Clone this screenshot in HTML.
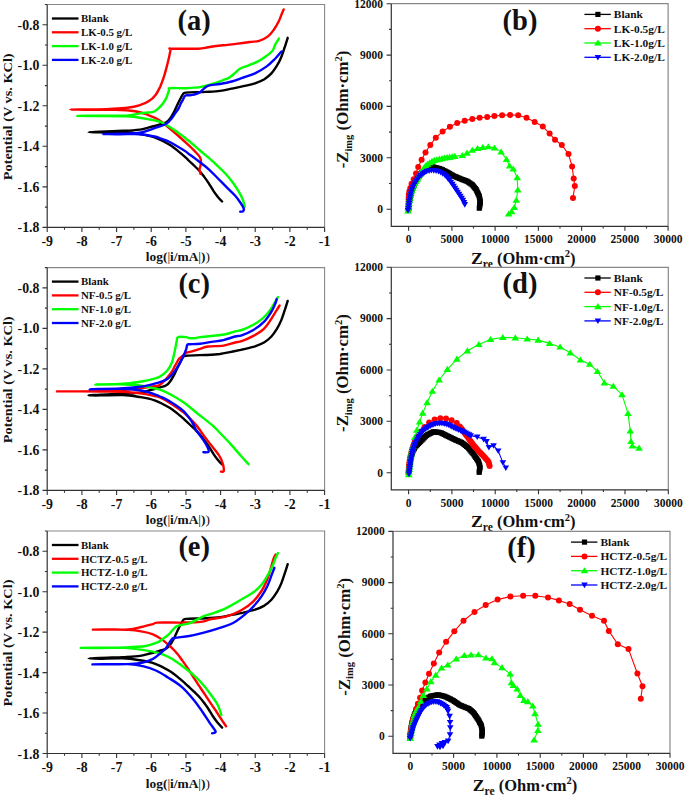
<!DOCTYPE html>
<html><head><meta charset="utf-8"><style>
html,body{margin:0;padding:0;background:#fff;overflow:hidden;}
svg{display:block;}
text{font-family:"Liberation Serif", serif;font-weight:bold;fill:#111;}
</style></head><body>
<svg width="685" height="795" viewBox="0 0 685 795">
<path d="M47.2,4.5H324.6V227.4" fill="none" stroke="#888" stroke-width="1.1"/>
<path d="M47.2,227.4v4.5 M64.5,227.4v2.3 M81.9,227.4v4.5 M99.2,227.4v2.3 M116.6,227.4v4.5 M133.9,227.4v2.3 M151.2,227.4v4.5 M168.6,227.4v2.3 M185.9,227.4v4.5 M203.2,227.4v2.3 M220.6,227.4v4.5 M237.9,227.4v2.3 M255.2,227.4v4.5 M272.6,227.4v2.3 M289.9,227.4v4.5 M307.3,227.4v2.3 M324.6,227.4v4.5 M47.2,24.8h-4.7 M47.2,4.5h-2.3 M47.2,65.3h-4.7 M47.2,45.0h-2.3 M47.2,105.8h-4.7 M47.2,85.6h-2.3 M47.2,146.3h-4.7 M47.2,126.1h-2.3 M47.2,186.9h-4.7 M47.2,166.6h-2.3 M47.2,227.4h-4.7 M47.2,207.1h-2.3" stroke="#333" stroke-width="1.1" fill="none"/>
<path d="M47.2,4.5V227.4H324.6" fill="none" stroke="#333" stroke-width="1.2"/>
<text transform="translate(39.4,29.8) scale(1,1.08)" font-size="13.8" text-anchor="end"><tspan font-weight="normal">-</tspan>0.8</text>
<text transform="translate(39.4,70.3) scale(1,1.08)" font-size="13.8" text-anchor="end"><tspan font-weight="normal">-</tspan>1.0</text>
<text transform="translate(39.4,110.8) scale(1,1.08)" font-size="13.8" text-anchor="end"><tspan font-weight="normal">-</tspan>1.2</text>
<text transform="translate(39.4,151.3) scale(1,1.08)" font-size="13.8" text-anchor="end"><tspan font-weight="normal">-</tspan>1.4</text>
<text transform="translate(39.4,191.9) scale(1,1.08)" font-size="13.8" text-anchor="end"><tspan font-weight="normal">-</tspan>1.6</text>
<text transform="translate(39.4,232.4) scale(1,1.08)" font-size="13.8" text-anchor="end"><tspan font-weight="normal">-</tspan>1.8</text>
<text transform="translate(47.2,245.8) scale(1,1.08)" font-size="13.8" text-anchor="middle"><tspan font-weight="normal">-</tspan>9</text>
<text transform="translate(81.9,245.8) scale(1,1.08)" font-size="13.8" text-anchor="middle"><tspan font-weight="normal">-</tspan>8</text>
<text transform="translate(116.6,245.8) scale(1,1.08)" font-size="13.8" text-anchor="middle"><tspan font-weight="normal">-</tspan>7</text>
<text transform="translate(151.2,245.8) scale(1,1.08)" font-size="13.8" text-anchor="middle"><tspan font-weight="normal">-</tspan>6</text>
<text transform="translate(185.9,245.8) scale(1,1.08)" font-size="13.8" text-anchor="middle"><tspan font-weight="normal">-</tspan>5</text>
<text transform="translate(220.6,245.8) scale(1,1.08)" font-size="13.8" text-anchor="middle"><tspan font-weight="normal">-</tspan>4</text>
<text transform="translate(255.2,245.8) scale(1,1.08)" font-size="13.8" text-anchor="middle"><tspan font-weight="normal">-</tspan>3</text>
<text transform="translate(289.9,245.8) scale(1,1.08)" font-size="13.8" text-anchor="middle"><tspan font-weight="normal">-</tspan>2</text>
<text transform="translate(324.6,245.8) scale(1,1.08)" font-size="13.8" text-anchor="middle"><tspan font-weight="normal">-</tspan>1</text>
<text transform="translate(12.3,116.8) rotate(-90) scale(1.11,1)" font-size="12.9" text-anchor="middle">Potential (V vs. KCl)</text>
<text x="145.8" y="261.4" font-size="13.4">log(<tspan font-weight="normal">|</tspan>i/mA<tspan font-weight="normal">|</tspan>)<tspan font-weight="normal">)</tspan></text>
<path d="M47.2,267.6H324.6V490.4" fill="none" stroke="#888" stroke-width="1.1"/>
<path d="M47.2,490.4v4.5 M64.5,490.4v2.3 M81.9,490.4v4.5 M99.2,490.4v2.3 M116.6,490.4v4.5 M133.9,490.4v2.3 M151.2,490.4v4.5 M168.6,490.4v2.3 M185.9,490.4v4.5 M203.2,490.4v2.3 M220.6,490.4v4.5 M237.9,490.4v2.3 M255.2,490.4v4.5 M272.6,490.4v2.3 M289.9,490.4v4.5 M307.3,490.4v2.3 M324.6,490.4v4.5 M47.2,287.9h-4.7 M47.2,267.6h-2.3 M47.2,328.4h-4.7 M47.2,308.1h-2.3 M47.2,368.9h-4.7 M47.2,348.6h-2.3 M47.2,409.4h-4.7 M47.2,389.1h-2.3 M47.2,449.9h-4.7 M47.2,429.6h-2.3 M47.2,490.4h-4.7 M47.2,470.1h-2.3" stroke="#333" stroke-width="1.1" fill="none"/>
<path d="M47.2,267.6V490.4H324.6" fill="none" stroke="#333" stroke-width="1.2"/>
<text transform="translate(39.4,292.9) scale(1,1.08)" font-size="13.8" text-anchor="end"><tspan font-weight="normal">-</tspan>0.8</text>
<text transform="translate(39.4,333.4) scale(1,1.08)" font-size="13.8" text-anchor="end"><tspan font-weight="normal">-</tspan>1.0</text>
<text transform="translate(39.4,373.9) scale(1,1.08)" font-size="13.8" text-anchor="end"><tspan font-weight="normal">-</tspan>1.2</text>
<text transform="translate(39.4,414.4) scale(1,1.08)" font-size="13.8" text-anchor="end"><tspan font-weight="normal">-</tspan>1.4</text>
<text transform="translate(39.4,454.9) scale(1,1.08)" font-size="13.8" text-anchor="end"><tspan font-weight="normal">-</tspan>1.6</text>
<text transform="translate(39.4,495.4) scale(1,1.08)" font-size="13.8" text-anchor="end"><tspan font-weight="normal">-</tspan>1.8</text>
<text transform="translate(47.2,508.8) scale(1,1.08)" font-size="13.8" text-anchor="middle"><tspan font-weight="normal">-</tspan>9</text>
<text transform="translate(81.9,508.8) scale(1,1.08)" font-size="13.8" text-anchor="middle"><tspan font-weight="normal">-</tspan>8</text>
<text transform="translate(116.6,508.8) scale(1,1.08)" font-size="13.8" text-anchor="middle"><tspan font-weight="normal">-</tspan>7</text>
<text transform="translate(151.2,508.8) scale(1,1.08)" font-size="13.8" text-anchor="middle"><tspan font-weight="normal">-</tspan>6</text>
<text transform="translate(185.9,508.8) scale(1,1.08)" font-size="13.8" text-anchor="middle"><tspan font-weight="normal">-</tspan>5</text>
<text transform="translate(220.6,508.8) scale(1,1.08)" font-size="13.8" text-anchor="middle"><tspan font-weight="normal">-</tspan>4</text>
<text transform="translate(255.2,508.8) scale(1,1.08)" font-size="13.8" text-anchor="middle"><tspan font-weight="normal">-</tspan>3</text>
<text transform="translate(289.9,508.8) scale(1,1.08)" font-size="13.8" text-anchor="middle"><tspan font-weight="normal">-</tspan>2</text>
<text transform="translate(324.6,508.8) scale(1,1.08)" font-size="13.8" text-anchor="middle"><tspan font-weight="normal">-</tspan>1</text>
<text transform="translate(12.3,379.8) rotate(-90) scale(1.11,1)" font-size="12.9" text-anchor="middle">Potential (V vs. KCl)</text>
<text x="145.8" y="524.4" font-size="13.4">log(<tspan font-weight="normal">|</tspan>i/mA<tspan font-weight="normal">|</tspan>)<tspan font-weight="normal">)</tspan></text>
<path d="M47.2,531.0H324.6V753.5" fill="none" stroke="#888" stroke-width="1.1"/>
<path d="M47.2,753.5v4.5 M64.5,753.5v2.3 M81.9,753.5v4.5 M99.2,753.5v2.3 M116.6,753.5v4.5 M133.9,753.5v2.3 M151.2,753.5v4.5 M168.6,753.5v2.3 M185.9,753.5v4.5 M203.2,753.5v2.3 M220.6,753.5v4.5 M237.9,753.5v2.3 M255.2,753.5v4.5 M272.6,753.5v2.3 M289.9,753.5v4.5 M307.3,753.5v2.3 M324.6,753.5v4.5 M47.2,551.2h-4.7 M47.2,531.0h-2.3 M47.2,591.7h-4.7 M47.2,571.5h-2.3 M47.2,632.1h-4.7 M47.2,611.9h-2.3 M47.2,672.6h-4.7 M47.2,652.4h-2.3 M47.2,713.0h-4.7 M47.2,692.8h-2.3 M47.2,753.5h-4.7 M47.2,733.3h-2.3" stroke="#333" stroke-width="1.1" fill="none"/>
<path d="M47.2,531.0V753.5H324.6" fill="none" stroke="#333" stroke-width="1.2"/>
<text transform="translate(39.4,556.2) scale(1,1.08)" font-size="13.8" text-anchor="end"><tspan font-weight="normal">-</tspan>0.8</text>
<text transform="translate(39.4,596.7) scale(1,1.08)" font-size="13.8" text-anchor="end"><tspan font-weight="normal">-</tspan>1.0</text>
<text transform="translate(39.4,637.1) scale(1,1.08)" font-size="13.8" text-anchor="end"><tspan font-weight="normal">-</tspan>1.2</text>
<text transform="translate(39.4,677.6) scale(1,1.08)" font-size="13.8" text-anchor="end"><tspan font-weight="normal">-</tspan>1.4</text>
<text transform="translate(39.4,718.0) scale(1,1.08)" font-size="13.8" text-anchor="end"><tspan font-weight="normal">-</tspan>1.6</text>
<text transform="translate(39.4,758.5) scale(1,1.08)" font-size="13.8" text-anchor="end"><tspan font-weight="normal">-</tspan>1.8</text>
<text transform="translate(47.2,771.9) scale(1,1.08)" font-size="13.8" text-anchor="middle"><tspan font-weight="normal">-</tspan>9</text>
<text transform="translate(81.9,771.9) scale(1,1.08)" font-size="13.8" text-anchor="middle"><tspan font-weight="normal">-</tspan>8</text>
<text transform="translate(116.6,771.9) scale(1,1.08)" font-size="13.8" text-anchor="middle"><tspan font-weight="normal">-</tspan>7</text>
<text transform="translate(151.2,771.9) scale(1,1.08)" font-size="13.8" text-anchor="middle"><tspan font-weight="normal">-</tspan>6</text>
<text transform="translate(185.9,771.9) scale(1,1.08)" font-size="13.8" text-anchor="middle"><tspan font-weight="normal">-</tspan>5</text>
<text transform="translate(220.6,771.9) scale(1,1.08)" font-size="13.8" text-anchor="middle"><tspan font-weight="normal">-</tspan>4</text>
<text transform="translate(255.2,771.9) scale(1,1.08)" font-size="13.8" text-anchor="middle"><tspan font-weight="normal">-</tspan>3</text>
<text transform="translate(289.9,771.9) scale(1,1.08)" font-size="13.8" text-anchor="middle"><tspan font-weight="normal">-</tspan>2</text>
<text transform="translate(324.6,771.9) scale(1,1.08)" font-size="13.8" text-anchor="middle"><tspan font-weight="normal">-</tspan>1</text>
<text transform="translate(12.3,643.0) rotate(-90) scale(1.11,1)" font-size="12.9" text-anchor="middle">Potential (V vs. KCl)</text>
<text x="145.8" y="787.5" font-size="13.4">log(<tspan font-weight="normal">|</tspan>i/mA<tspan font-weight="normal">|</tspan>)<tspan font-weight="normal">)</tspan></text>
<path d="M391.3,3.7H668.1V226.3" fill="none" stroke="#888" stroke-width="1.2"/>
<path d="M408.6,226.3v4.5 M430.2,226.3v2.3 M451.9,226.3v4.5 M473.5,226.3v2.3 M495.1,226.3v4.5 M516.7,226.3v2.3 M538.4,226.3v4.5 M560.0,226.3v2.3 M581.6,226.3v4.5 M603.2,226.3v2.3 M624.9,226.3v4.5 M646.5,226.3v2.3 M668.1,226.3v4.5 M391.3,209.2h-4.7 M391.3,183.5h-2.3 M391.3,157.8h-4.7 M391.3,132.1h-2.3 M391.3,106.4h-4.7 M391.3,80.8h-2.3 M391.3,55.1h-4.7 M391.3,29.4h-2.3 M391.3,3.7h-4.7" stroke="#333" stroke-width="1.1" fill="none"/>
<path d="M391.3,3.7V226.3H668.1" fill="none" stroke="#333" stroke-width="1.2"/>
<text x="383.0" y="213.0" font-size="11.5" text-anchor="end" >0</text>
<text x="383.0" y="161.6" font-size="11.5" text-anchor="end" >3000</text>
<text x="383.0" y="110.2" font-size="11.5" text-anchor="end" >6000</text>
<text x="383.0" y="58.9" font-size="11.5" text-anchor="end" >9000</text>
<text x="383.0" y="7.5" font-size="11.5" text-anchor="end" >12000</text>
<text x="408.6" y="243.3" font-size="11.5" text-anchor="middle" >0</text>
<text x="451.9" y="243.3" font-size="11.5" text-anchor="middle" >5000</text>
<text x="495.1" y="243.3" font-size="11.5" text-anchor="middle" >10000</text>
<text x="538.4" y="243.3" font-size="11.5" text-anchor="middle" >15000</text>
<text x="581.6" y="243.3" font-size="11.5" text-anchor="middle" >20000</text>
<text x="624.9" y="243.3" font-size="11.5" text-anchor="middle" >25000</text>
<text x="668.1" y="243.3" font-size="11.5" text-anchor="middle" >30000</text>
<text transform="translate(348.1,109.5) rotate(-90)" font-size="16.8" text-anchor="middle">-Z<tspan font-size="10.5" dy="3.5">img</tspan><tspan dy="-3.5"> (Ohm·cm</tspan><tspan font-size="10.5" dy="-6">2</tspan><tspan dy="6">)</tspan></text>
<text x="471.1" y="263.5" font-size="16.5"><tspan font-size="17.6">Z</tspan><tspan font-size="11.5" dy="4">re</tspan><tspan dy="-4"> (Ohm·cm</tspan><tspan font-size="10.5" dy="-6.5">2</tspan><tspan dy="6.5">)</tspan></text>
<path d="M391.3,267.3H668.3V489.8" fill="none" stroke="#888" stroke-width="1.2"/>
<path d="M408.6,489.8v4.5 M430.3,489.8v2.3 M451.9,489.8v4.5 M473.5,489.8v2.3 M495.2,489.8v4.5 M516.8,489.8v2.3 M538.5,489.8v4.5 M560.1,489.8v2.3 M581.7,489.8v4.5 M603.4,489.8v2.3 M625.0,489.8v4.5 M646.7,489.8v2.3 M668.3,489.8v4.5 M391.3,472.7h-4.7 M391.3,447.0h-2.3 M391.3,421.3h-4.7 M391.3,395.7h-2.3 M391.3,370.0h-4.7 M391.3,344.3h-2.3 M391.3,318.6h-4.7 M391.3,293.0h-2.3 M391.3,267.3h-4.7" stroke="#333" stroke-width="1.1" fill="none"/>
<path d="M391.3,267.3V489.8H668.3" fill="none" stroke="#333" stroke-width="1.2"/>
<text x="383.0" y="476.5" font-size="11.5" text-anchor="end" >0</text>
<text x="383.0" y="425.1" font-size="11.5" text-anchor="end" >3000</text>
<text x="383.0" y="373.8" font-size="11.5" text-anchor="end" >6000</text>
<text x="383.0" y="322.4" font-size="11.5" text-anchor="end" >9000</text>
<text x="383.0" y="271.1" font-size="11.5" text-anchor="end" >12000</text>
<text x="408.6" y="506.8" font-size="11.5" text-anchor="middle" >0</text>
<text x="451.9" y="506.8" font-size="11.5" text-anchor="middle" >5000</text>
<text x="495.2" y="506.8" font-size="11.5" text-anchor="middle" >10000</text>
<text x="538.5" y="506.8" font-size="11.5" text-anchor="middle" >15000</text>
<text x="581.7" y="506.8" font-size="11.5" text-anchor="middle" >20000</text>
<text x="625.0" y="506.8" font-size="11.5" text-anchor="middle" >25000</text>
<text x="668.3" y="506.8" font-size="11.5" text-anchor="middle" >30000</text>
<text transform="translate(348.1,373.1) rotate(-90)" font-size="16.8" text-anchor="middle">-Z<tspan font-size="10.5" dy="3.5">img</tspan><tspan dy="-3.5"> (Ohm·cm</tspan><tspan font-size="10.5" dy="-6">2</tspan><tspan dy="6">)</tspan></text>
<text x="471.1" y="527.0" font-size="16.5"><tspan font-size="17.6">Z</tspan><tspan font-size="11.5" dy="4">re</tspan><tspan dy="-4"> (Ohm·cm</tspan><tspan font-size="10.5" dy="-6.5">2</tspan><tspan dy="6.5">)</tspan></text>
<path d="M393.0,531.4H670.0V753.3" fill="none" stroke="#888" stroke-width="1.2"/>
<path d="M410.3,753.3v4.5 M432.0,753.3v2.3 M453.6,753.3v4.5 M475.2,753.3v2.3 M496.9,753.3v4.5 M518.5,753.3v2.3 M540.2,753.3v4.5 M561.8,753.3v2.3 M583.4,753.3v4.5 M605.1,753.3v2.3 M626.7,753.3v4.5 M648.4,753.3v2.3 M670.0,753.3v4.5 M393.0,736.2h-4.7 M393.0,710.6h-2.3 M393.0,685.0h-4.7 M393.0,659.4h-2.3 M393.0,633.8h-4.7 M393.0,608.2h-2.3 M393.0,582.6h-4.7 M393.0,557.0h-2.3 M393.0,531.4h-4.7" stroke="#333" stroke-width="1.1" fill="none"/>
<path d="M393.0,531.4V753.3H670.0" fill="none" stroke="#333" stroke-width="1.2"/>
<text x="384.7" y="740.0" font-size="11.5" text-anchor="end" >0</text>
<text x="384.7" y="688.8" font-size="11.5" text-anchor="end" >3000</text>
<text x="384.7" y="637.6" font-size="11.5" text-anchor="end" >6000</text>
<text x="384.7" y="586.4" font-size="11.5" text-anchor="end" >9000</text>
<text x="384.7" y="535.2" font-size="11.5" text-anchor="end" >12000</text>
<text x="410.3" y="770.3" font-size="11.5" text-anchor="middle" >0</text>
<text x="453.6" y="770.3" font-size="11.5" text-anchor="middle" >5000</text>
<text x="496.9" y="770.3" font-size="11.5" text-anchor="middle" >10000</text>
<text x="540.2" y="770.3" font-size="11.5" text-anchor="middle" >15000</text>
<text x="583.4" y="770.3" font-size="11.5" text-anchor="middle" >20000</text>
<text x="626.7" y="770.3" font-size="11.5" text-anchor="middle" >25000</text>
<text x="670.0" y="770.3" font-size="11.5" text-anchor="middle" >30000</text>
<text transform="translate(349.8,636.8) rotate(-90)" font-size="16.8" text-anchor="middle">-Z<tspan font-size="10.5" dy="3.5">img</tspan><tspan dy="-3.5"> (Ohm·cm</tspan><tspan font-size="10.5" dy="-6">2</tspan><tspan dy="6">)</tspan></text>
<text x="472.8" y="790.5" font-size="16.5"><tspan font-size="17.6">Z</tspan><tspan font-size="11.5" dy="4">re</tspan><tspan dy="-4"> (Ohm·cm</tspan><tspan font-size="10.5" dy="-6.5">2</tspan><tspan dy="6.5">)</tspan></text>
<text x="194.2" y="30.0" font-size="28.5" text-anchor="middle" >(a)</text>
<text x="194.2" y="293.0" font-size="28.5" text-anchor="middle" >(c)</text>
<text x="194.2" y="556.0" font-size="28.5" text-anchor="middle" >(e)</text>
<text x="520.0" y="30.0" font-size="28.5" text-anchor="middle" >(b)</text>
<text x="520.0" y="293.0" font-size="28.5" text-anchor="middle" >(d)</text>
<text x="521.5" y="557.0" font-size="28.5" text-anchor="middle" >(f)</text>
<line x1="51.9" y1="18.5" x2="78.5" y2="18.5" stroke="#000" stroke-width="2.3"/>
<text x="80.9" y="22.3" font-size="10.9" text-anchor="start" >Blank</text>
<line x1="51.9" y1="32.3" x2="78.5" y2="32.3" stroke="#f00" stroke-width="2.3"/>
<text x="80.9" y="36.1" font-size="10.9" text-anchor="start" >LK-0.5 g/L</text>
<line x1="51.9" y1="46.1" x2="78.5" y2="46.1" stroke="#0f0" stroke-width="2.3"/>
<text x="80.9" y="49.9" font-size="10.9" text-anchor="start" >LK-1.0 g/L</text>
<line x1="51.9" y1="59.9" x2="78.5" y2="59.9" stroke="#00f" stroke-width="2.3"/>
<text x="80.9" y="63.7" font-size="10.9" text-anchor="start" >LK-2.0 g/L</text>
<line x1="51.9" y1="281.6" x2="78.5" y2="281.6" stroke="#000" stroke-width="2.3"/>
<text x="80.9" y="285.4" font-size="10.9" text-anchor="start" >Blank</text>
<line x1="51.9" y1="295.4" x2="78.5" y2="295.4" stroke="#f00" stroke-width="2.3"/>
<text x="80.9" y="299.2" font-size="10.9" text-anchor="start" >NF-0.5 g/L</text>
<line x1="51.9" y1="309.2" x2="78.5" y2="309.2" stroke="#0f0" stroke-width="2.3"/>
<text x="80.9" y="313.0" font-size="10.9" text-anchor="start" >NF-1.0 g/L</text>
<line x1="51.9" y1="323.0" x2="78.5" y2="323.0" stroke="#00f" stroke-width="2.3"/>
<text x="80.9" y="326.8" font-size="10.9" text-anchor="start" >NF-2.0 g/L</text>
<line x1="51.9" y1="545.0" x2="78.5" y2="545.0" stroke="#000" stroke-width="2.3"/>
<text x="80.9" y="548.8" font-size="10.9" text-anchor="start" >Blank</text>
<line x1="51.9" y1="558.8" x2="78.5" y2="558.8" stroke="#f00" stroke-width="2.3"/>
<text x="80.9" y="562.6" font-size="10.9" text-anchor="start" >HCTZ-0.5 g/L</text>
<line x1="51.9" y1="572.6" x2="78.5" y2="572.6" stroke="#0f0" stroke-width="2.3"/>
<text x="80.9" y="576.4" font-size="10.9" text-anchor="start" >HCTZ-1.0 g/L</text>
<line x1="51.9" y1="586.4" x2="78.5" y2="586.4" stroke="#00f" stroke-width="2.3"/>
<text x="80.9" y="590.2" font-size="10.9" text-anchor="start" >HCTZ-2.0 g/L</text>
<line x1="584.4" y1="14.4" x2="610.8" y2="14.4" stroke="#000" stroke-width="1.3"/>
<rect x="595.3" y="11.8" width="5.2" height="5.2" fill="#000"/>
<text x="613.8" y="18.3" font-size="11.4" text-anchor="start" >Blank</text>
<line x1="584.4" y1="28.7" x2="610.8" y2="28.7" stroke="#f00" stroke-width="1.3"/>
<circle cx="597.9" cy="28.7" r="3.00" fill="#f00"/>
<text x="613.8" y="32.6" font-size="11.4" text-anchor="start" >LK-0.5g/L</text>
<line x1="584.4" y1="43.0" x2="610.8" y2="43.0" stroke="#0f0" stroke-width="1.3"/>
<path d="M597.9,39.5L601.7,45.6L594.1,45.6Z" fill="#0f0"/>
<text x="613.8" y="46.9" font-size="11.4" text-anchor="start" >LK-1.0g/L</text>
<line x1="584.4" y1="57.3" x2="610.8" y2="57.3" stroke="#00f" stroke-width="1.3"/>
<path d="M597.9,60.5L601.2,54.9L594.6,54.9Z" fill="#00f"/>
<text x="613.8" y="61.2" font-size="11.4" text-anchor="start" >LK-2.0g/L</text>
<line x1="584.4" y1="278.0" x2="610.8" y2="278.0" stroke="#000" stroke-width="1.3"/>
<rect x="595.3" y="275.4" width="5.2" height="5.2" fill="#000"/>
<text x="613.8" y="281.9" font-size="11.4" text-anchor="start" >Blank</text>
<line x1="584.4" y1="292.3" x2="610.8" y2="292.3" stroke="#f00" stroke-width="1.3"/>
<circle cx="597.9" cy="292.3" r="3.00" fill="#f00"/>
<text x="613.8" y="296.2" font-size="11.4" text-anchor="start" >NF-0.5g/L</text>
<line x1="584.4" y1="306.6" x2="610.8" y2="306.6" stroke="#0f0" stroke-width="1.3"/>
<path d="M597.9,303.1L601.7,309.2L594.1,309.2Z" fill="#0f0"/>
<text x="613.8" y="310.5" font-size="11.4" text-anchor="start" >NF-1.0g/L</text>
<line x1="584.4" y1="320.9" x2="610.8" y2="320.9" stroke="#00f" stroke-width="1.3"/>
<path d="M597.9,324.1L601.2,318.5L594.6,318.5Z" fill="#00f"/>
<text x="613.8" y="324.8" font-size="11.4" text-anchor="start" >NF-2.0g/L</text>
<line x1="571.0" y1="542.1" x2="597.4" y2="542.1" stroke="#000" stroke-width="1.3"/>
<rect x="581.9" y="539.5" width="5.2" height="5.2" fill="#000"/>
<text x="600.4" y="546.0" font-size="11.4" text-anchor="start" >Blank</text>
<line x1="571.0" y1="556.4" x2="597.4" y2="556.4" stroke="#f00" stroke-width="1.3"/>
<circle cx="584.5" cy="556.4" r="3.00" fill="#f00"/>
<text x="600.4" y="560.3" font-size="11.4" text-anchor="start" >HCTZ-0.5g/L</text>
<line x1="571.0" y1="570.7" x2="597.4" y2="570.7" stroke="#0f0" stroke-width="1.3"/>
<path d="M584.5,567.2L588.3,573.3L580.7,573.3Z" fill="#0f0"/>
<text x="600.4" y="574.6" font-size="11.4" text-anchor="start" >HCTZ-1.0g/L</text>
<line x1="571.0" y1="585.0" x2="597.4" y2="585.0" stroke="#00f" stroke-width="1.3"/>
<path d="M584.5,588.2L587.8,582.6L581.2,582.6Z" fill="#00f"/>
<text x="600.4" y="588.9" font-size="11.4" text-anchor="start" >HCTZ-2.0g/L</text>
<path d="M222.1,201.5C221.3,200.7 219.0,198.3 217.5,196.4C216.0,194.5 214.5,192.5 213.1,190.3C211.6,188.1 210.2,185.5 208.8,183.3C207.4,181.1 205.9,179.1 204.4,177.1C202.9,175.1 201.7,173.4 200.0,171.5C198.3,169.6 196.0,167.4 194.0,165.5C192.0,163.6 190.2,161.8 188.0,159.8C185.8,157.8 184.0,155.9 180.9,153.4C177.8,150.9 173.6,147.3 169.2,144.6C164.8,141.9 159.5,139.1 154.6,137.3C149.7,135.5 145.3,134.9 140.0,134.0C134.7,133.1 129.5,132.3 122.8,132.0C116.1,131.7 105.7,132.4 100.0,132.4C94.3,132.4 88.5,132.3 88.5,132.2C88.5,132.1 94.3,131.8 100.0,131.6C105.7,131.4 116.1,131.1 122.8,130.8C129.5,130.5 135.9,130.1 140.0,129.6C144.1,129.1 145.2,128.4 147.6,127.8C150.0,127.2 152.5,126.6 154.6,126.0C156.7,125.4 158.1,125.0 160.0,124.4C161.9,123.8 164.6,123.4 166.3,122.3C168.1,121.2 169.2,119.7 170.5,118.0C171.8,116.3 172.8,114.3 174.0,112.0C175.2,109.8 176.4,106.8 177.5,104.5C178.6,102.3 179.6,100.2 180.5,98.5C181.4,96.8 182.1,95.2 183.0,94.2C183.9,93.2 182.2,93.0 186.0,92.6C189.8,92.2 200.0,92.2 205.7,91.9C211.4,91.6 215.7,91.5 220.0,90.9C224.3,90.4 227.8,89.4 231.7,88.6C235.6,87.8 239.5,87.1 243.4,86.2C247.3,85.3 251.5,84.5 255.0,83.3C258.5,82.1 261.7,80.8 264.4,79.2C267.1,77.5 269.3,75.7 271.4,73.4C273.5,71.1 275.5,67.9 277.2,65.2C278.9,62.5 280.1,60.0 281.3,57.0C282.5,54.1 283.5,50.7 284.6,47.5C285.7,44.3 287.2,39.4 287.7,37.8" fill="none" stroke="#000" stroke-width="2.4" stroke-linejoin="round" stroke-linecap="round"/>
<path d="M222.1,464.5C221.3,463.7 219.0,461.3 217.5,459.4C216.0,457.5 214.5,455.5 213.1,453.3C211.6,451.1 210.2,448.5 208.8,446.3C207.4,444.1 205.9,442.1 204.4,440.1C202.9,438.2 201.7,436.5 200.0,434.5C198.3,432.6 196.0,430.5 194.0,428.5C192.0,426.6 190.2,424.8 188.0,422.8C185.8,420.8 184.0,419.0 180.9,416.4C177.8,413.9 173.6,410.3 169.2,407.6C164.8,405.0 159.5,402.1 154.6,400.3C149.7,398.6 145.3,397.9 140.0,397.0C134.7,396.2 129.5,395.3 122.8,395.0C116.1,394.8 105.7,395.4 100.0,395.4C94.3,395.5 88.5,395.4 88.5,395.2C88.5,395.1 94.3,394.9 100.0,394.6C105.7,394.4 116.1,394.2 122.8,393.8C129.5,393.5 135.9,393.1 140.0,392.6C144.1,392.1 145.2,391.4 147.6,390.8C150.0,390.2 152.5,389.6 154.6,389.0C156.7,388.5 158.1,388.1 160.0,387.4C161.9,386.8 164.6,386.4 166.3,385.3C168.1,384.3 169.2,382.8 170.5,381.0C171.8,379.3 172.8,377.3 174.0,375.1C175.2,372.8 176.4,369.8 177.5,367.6C178.6,365.3 179.6,363.3 180.5,361.6C181.4,359.8 182.1,358.2 183.0,357.3C183.9,356.3 182.2,356.0 186.0,355.7C189.8,355.3 200.0,355.2 205.7,355.0C211.4,354.7 215.7,354.5 220.0,354.0C224.3,353.4 227.8,352.4 231.7,351.7C235.6,350.9 239.5,350.1 243.4,349.3C247.3,348.4 251.5,347.5 255.0,346.4C258.5,345.2 261.7,343.9 264.4,342.3C267.1,340.6 269.3,338.8 271.4,336.5C273.5,334.1 275.5,331.0 277.2,328.3C278.9,325.5 280.1,323.0 281.3,320.1C282.5,317.1 283.5,313.8 284.6,310.6C285.7,307.4 287.2,302.5 287.7,300.9" fill="none" stroke="#000" stroke-width="2.4" stroke-linejoin="round" stroke-linecap="round"/>
<path d="M222.1,727.6C221.3,726.8 219.0,724.4 217.5,722.6C216.0,720.7 214.5,718.6 213.1,716.5C211.6,714.3 210.2,711.7 208.8,709.5C207.4,707.3 205.9,705.3 204.4,703.3C202.9,701.3 201.7,699.6 200.0,697.7C198.3,695.8 196.0,693.7 194.0,691.7C192.0,689.8 190.2,688.0 188.0,686.0C185.8,684.0 184.0,682.2 180.9,679.6C177.8,677.1 173.6,673.5 169.2,670.8C164.8,668.2 159.5,665.3 154.6,663.6C149.7,661.8 145.3,661.1 140.0,660.3C134.7,659.4 129.5,658.5 122.8,658.3C116.1,658.0 105.7,658.6 100.0,658.7C94.3,658.7 88.5,658.6 88.5,658.5C88.5,658.3 94.3,658.1 100.0,657.9C105.7,657.6 116.1,657.4 122.8,657.1C129.5,656.7 135.9,656.4 140.0,655.9C144.1,655.4 145.2,654.7 147.6,654.1C150.0,653.5 152.5,652.8 154.6,652.3C156.7,651.7 158.1,651.3 160.0,650.7C161.9,650.1 164.6,649.7 166.3,648.6C168.1,647.5 169.2,646.0 170.5,644.3C171.8,642.6 172.8,640.6 174.0,638.3C175.2,636.1 176.4,633.1 177.5,630.8C178.6,628.6 179.6,626.5 180.5,624.8C181.4,623.1 182.1,621.5 183.0,620.5C183.9,619.6 182.2,619.3 186.0,618.9C189.8,618.6 200.0,618.5 205.7,618.2C211.4,618.0 215.7,617.8 220.0,617.2C224.3,616.7 227.8,615.7 231.7,614.9C235.6,614.2 239.5,613.4 243.4,612.6C247.3,611.7 251.5,610.8 255.0,609.7C258.5,608.5 261.7,607.2 264.4,605.6C267.1,603.9 269.3,602.1 271.4,599.8C273.5,597.4 275.5,594.3 277.2,591.6C278.9,588.9 280.1,586.4 281.3,583.4C282.5,580.5 283.5,577.1 284.6,573.9C285.7,570.7 287.2,565.9 287.7,564.2" fill="none" stroke="#000" stroke-width="2.4" stroke-linejoin="round" stroke-linecap="round"/>
<path d="M200.5,173.8C200.3,173.1 199.4,171.1 199.5,169.4C199.6,167.7 200.8,165.6 200.9,163.6C201.0,161.6 201.3,159.9 200.2,157.7C199.0,155.5 196.8,153.3 194.0,150.4C191.2,147.5 187.3,144.0 183.5,140.5C179.7,137.0 175.1,132.9 171.0,129.5C166.9,126.1 162.9,122.5 159.0,120.0C155.1,117.5 151.6,116.2 147.6,114.7C143.6,113.2 140.3,112.0 135.0,111.2C129.7,110.4 123.0,110.0 115.5,109.8C108.0,109.6 97.5,109.8 90.0,109.8C82.5,109.8 70.2,109.7 70.2,109.6C70.2,109.5 83.4,109.5 90.0,109.4C96.6,109.3 103.8,109.2 110.0,108.9C116.2,108.6 122.6,108.4 127.5,107.8C132.4,107.2 135.7,106.5 139.2,105.4C142.7,104.3 145.9,103.1 148.6,101.3C151.3,99.6 153.7,97.3 155.6,94.9C157.5,92.5 158.8,89.6 160.2,86.7C161.5,83.8 162.6,80.7 163.7,77.4C164.8,74.1 165.8,70.2 166.7,66.9C167.6,63.6 168.3,60.4 169.0,57.5C169.7,54.6 170.3,50.8 170.7,49.3C171.1,47.8 167.0,48.8 171.6,48.7C176.2,48.6 192.1,49.0 198.2,48.7C204.3,48.5 204.3,47.8 208.4,47.2C212.5,46.6 218.1,45.9 223.0,45.3C227.9,44.7 233.1,44.2 237.6,43.6C242.1,43.1 246.4,42.5 250.0,42.0C253.6,41.5 256.2,41.7 259.2,40.8C262.2,39.9 265.6,38.2 268.0,36.4C270.4,34.6 272.0,32.3 273.8,29.8C275.6,27.2 277.6,23.8 278.9,21.1C280.2,18.4 281.0,15.7 281.8,13.8C282.6,11.8 283.4,10.1 283.7,9.4" fill="none" stroke="#f00" stroke-width="2.4" stroke-linejoin="round" stroke-linecap="round"/>
<path d="M220.9,471.6C221.4,471.5 223.6,472.5 223.8,470.9C224.0,469.3 223.2,464.8 222.3,462.1C221.5,459.4 220.6,457.7 218.7,454.8C216.8,451.9 213.1,447.7 210.7,444.6C208.3,441.5 206.7,439.5 204.2,436.1C201.7,432.7 198.9,428.3 195.5,424.4C192.1,420.5 188.2,416.4 183.8,412.7C179.4,409.1 173.2,405.0 169.2,402.5C165.2,400.0 162.4,398.6 160.0,397.5C157.6,396.4 157.9,396.7 154.6,396.0C151.3,395.3 145.8,394.0 140.0,393.3C134.2,392.6 126.7,392.1 120.0,391.8C113.3,391.5 110.5,391.6 100.0,391.5C89.5,391.4 57.0,391.4 57.0,391.4C57.0,391.4 89.5,391.4 100.0,391.3C110.5,391.2 113.3,391.0 120.0,390.5C126.7,390.0 134.7,388.9 140.0,388.2C145.3,387.5 148.7,387.1 152.0,386.5C155.3,385.9 156.9,386.9 160.0,384.8C163.1,382.7 167.9,377.0 170.4,373.8C172.9,370.6 173.8,367.8 175.2,365.4C176.6,363.0 177.9,360.5 178.7,359.2C179.5,357.9 179.3,358.5 180.1,357.8C180.9,357.1 182.5,356.0 183.5,355.1C184.5,354.2 185.0,353.2 186.3,352.6C187.6,352.0 188.8,352.2 191.1,351.6C193.4,351.0 197.2,349.7 200.0,348.8C202.8,347.9 204.3,347.0 208.2,346.5C212.1,346.0 218.9,346.3 223.4,345.6C227.9,344.9 232.0,343.2 235.1,342.5C238.1,341.8 238.6,342.2 241.7,341.1C244.8,340.0 249.7,337.9 253.4,335.9C257.1,333.9 261.0,331.6 263.9,328.9C266.8,326.2 268.8,322.6 270.9,319.5C273.0,316.4 275.2,312.5 276.7,310.2C278.1,307.9 279.1,306.3 279.6,305.5" fill="none" stroke="#f00" stroke-width="2.4" stroke-linejoin="round" stroke-linecap="round"/>
<path d="M226.1,726.3C225.3,725.1 223.3,722.2 221.4,719.3C219.4,716.4 217.1,712.8 214.4,708.7C211.7,704.6 208.1,699.4 205.0,694.7C201.9,690.0 198.6,685.2 195.7,680.7C192.8,676.2 189.8,671.4 187.5,667.9C185.2,664.4 183.6,662.3 181.9,660.0C180.2,657.7 179.4,656.2 177.5,654.0C175.6,651.8 173.1,649.1 170.5,646.7C167.9,644.3 164.7,641.5 161.8,639.4C158.9,637.3 156.4,635.6 153.0,634.3C149.6,633.0 145.4,632.1 141.3,631.4C137.2,630.6 133.4,630.1 128.2,629.8C123.0,629.5 115.9,629.6 110.0,629.6C104.1,629.6 92.8,629.6 92.8,629.6C92.8,629.6 104.1,629.5 110.0,629.5C115.9,629.5 123.0,629.8 128.2,629.4C133.4,629.0 137.2,627.9 141.3,627.0C145.4,626.1 150.3,624.8 153.0,624.1C155.7,623.4 152.6,622.9 157.4,622.6C162.2,622.4 174.6,622.7 181.9,622.6C189.1,622.5 196.0,622.5 200.9,621.9C205.8,621.3 207.0,619.9 211.1,619.0C215.2,618.1 220.6,618.2 225.7,616.7C230.8,615.2 237.1,612.6 241.7,610.0C246.3,607.4 250.1,604.5 253.4,601.3C256.7,598.1 259.2,594.5 261.5,591.0C263.8,587.5 265.4,583.8 267.0,580.0C268.6,576.2 269.7,571.9 270.8,568.4C271.9,564.9 272.7,561.3 273.5,559.0C274.3,556.7 275.2,555.2 275.6,554.5" fill="none" stroke="#f00" stroke-width="2.4" stroke-linejoin="round" stroke-linecap="round"/>
<path d="M244.7,206.9C244.4,205.7 243.9,202.5 242.9,199.9C241.9,197.3 240.1,194.0 238.5,191.2C236.9,188.4 235.3,186.1 233.3,183.3C231.3,180.5 228.9,177.4 226.3,174.5C223.7,171.6 220.4,168.6 217.5,165.8C214.6,163.0 211.7,160.4 208.8,157.9C205.9,155.4 203.3,153.3 200.0,150.5C196.7,147.7 192.9,144.2 189.0,141.0C185.1,137.8 181.0,134.6 176.5,131.5C172.0,128.4 166.7,124.6 161.9,122.5C157.1,120.4 152.1,120.0 147.6,119.1C143.1,118.2 138.7,117.5 135.0,117.0C131.3,116.5 131.5,116.4 125.7,116.2C119.9,116.0 108.1,116.0 100.0,116.0C91.9,115.9 77.2,115.9 77.2,115.9C77.2,115.8 91.9,115.8 100.0,115.7C108.1,115.7 119.0,116.0 125.7,115.6C132.4,115.2 136.8,113.9 140.4,113.4C144.1,112.9 145.3,112.8 147.6,112.5C149.9,112.2 152.1,112.7 154.4,111.5C156.7,110.3 159.5,107.6 161.4,105.4C163.4,103.2 164.8,100.9 166.1,98.4C167.4,95.9 168.3,91.9 169.0,90.2C169.7,88.5 167.3,88.4 170.2,88.1C173.1,87.8 181.3,88.4 186.5,88.2C191.7,88.0 196.2,87.8 201.1,86.9C206.0,86.0 212.2,84.1 215.7,83.0C219.2,81.9 219.7,81.4 222.0,80.5C224.3,79.6 227.1,78.9 229.3,77.6C231.5,76.3 233.4,74.3 235.2,72.8C237.0,71.3 237.6,70.0 239.9,68.7C242.2,67.4 246.1,66.5 249.2,65.2C252.3,63.9 255.7,62.7 258.6,61.1C261.5,59.5 264.4,57.5 266.7,55.8C269.0,54.1 271.2,52.5 272.6,50.6C274.0,48.7 274.2,46.4 275.3,44.4C276.4,42.4 278.3,39.6 278.9,38.6" fill="none" stroke="#0f0" stroke-width="2.4" stroke-linejoin="round" stroke-linecap="round"/>
<path d="M248.6,464.3C247.4,463.0 244.2,459.6 241.3,456.3C238.4,453.0 234.3,448.2 231.1,444.6C227.9,441.1 225.0,438.1 222.0,435.0C219.0,431.9 216.9,429.4 213.0,425.9C209.1,422.4 203.3,418.1 198.4,414.2C193.5,410.3 188.7,405.9 183.8,402.5C178.9,399.1 173.2,395.9 169.2,393.8C165.2,391.7 162.9,390.7 160.0,389.7C157.1,388.7 155.0,388.6 151.7,387.9C148.4,387.2 145.3,386.1 140.0,385.5C134.7,384.9 127.5,384.5 120.0,384.3C112.6,384.1 95.3,384.6 95.3,384.5C95.3,384.4 112.6,384.4 120.0,384.0C127.5,383.6 134.2,382.7 140.0,381.8C145.8,380.9 151.3,379.6 154.6,378.7C157.9,377.8 157.9,377.8 160.0,376.5C162.1,375.2 164.9,373.3 166.9,371.0C168.9,368.7 170.5,365.8 171.8,362.7C173.1,359.6 173.7,355.8 174.5,352.3C175.3,348.8 176.0,344.4 176.6,341.9C177.2,339.4 176.4,337.9 178.0,337.1C179.6,336.3 184.5,336.9 186.3,337.1C188.2,337.3 187.5,337.9 189.1,338.1C190.7,338.3 194.2,338.3 196.0,338.1C197.8,337.9 197.4,337.5 200.0,337.1C202.6,336.8 207.4,336.5 211.7,336.0C216.0,335.5 221.8,335.1 225.7,334.3C229.6,333.5 232.4,332.1 235.1,331.4C237.8,330.7 238.6,331.1 241.7,330.0C244.8,328.9 249.9,326.7 253.4,324.8C256.9,322.9 260.0,320.7 262.7,318.4C265.4,316.1 267.8,313.3 269.7,310.8C271.6,308.3 273.0,305.5 274.4,303.2C275.8,300.9 277.3,298.1 277.9,297.1" fill="none" stroke="#0f0" stroke-width="2.4" stroke-linejoin="round" stroke-linecap="round"/>
<path d="M221.4,715.2C220.8,713.5 219.6,708.6 217.9,705.2C216.1,701.8 213.4,698.2 210.9,694.7C208.4,691.2 205.6,687.5 202.7,684.2C199.8,680.9 196.9,678.0 193.4,674.9C189.9,671.8 184.8,667.9 181.7,665.5C178.6,663.1 176.5,661.8 174.6,660.5C172.7,659.2 172.4,659.0 170.0,657.8C167.6,656.6 164.4,654.7 160.3,653.5C156.2,652.3 151.8,651.3 145.7,650.4C139.6,649.5 131.4,648.3 123.8,647.9C116.2,647.5 107.2,648.0 100.0,648.0C92.8,648.0 80.7,647.9 80.7,647.9C80.7,647.9 92.8,647.8 100.0,647.7C107.2,647.6 116.2,647.8 123.8,647.5C131.4,647.2 140.1,646.9 145.7,646.0C151.3,645.1 155.0,643.1 157.4,642.3C159.8,641.4 158.6,641.9 160.0,640.9C161.4,639.9 164.6,637.6 166.1,636.5C167.6,635.4 167.6,635.5 168.8,634.3C170.0,633.1 172.0,630.6 173.4,629.2C174.9,627.8 174.9,626.8 177.5,625.8C180.1,624.8 184.8,625.0 189.2,623.4C193.6,621.8 200.2,617.7 203.8,616.1C207.5,614.5 207.4,615.2 211.1,613.9C214.7,612.6 220.6,610.7 225.7,608.3C230.8,605.9 237.1,602.0 241.7,599.3C246.3,596.6 250.1,594.7 253.4,592.3C256.7,589.9 259.1,587.5 261.5,584.7C263.9,581.9 265.8,578.5 267.6,575.4C269.4,572.3 271.2,568.9 272.5,566.0C273.8,563.1 274.7,560.1 275.6,557.9C276.5,555.7 277.6,553.8 278.0,553.0" fill="none" stroke="#0f0" stroke-width="2.4" stroke-linejoin="round" stroke-linecap="round"/>
<path d="M240.3,211.7C240.7,211.6 242.3,211.8 242.9,211.3C243.5,210.8 244.2,210.2 243.8,208.7C243.4,207.2 241.8,204.7 240.3,202.5C238.8,200.3 237.3,198.1 235.0,195.5C232.7,192.9 229.2,189.7 226.3,186.8C223.4,183.9 220.4,180.9 217.5,178.0C214.6,175.1 211.7,171.9 208.8,169.3C205.9,166.7 203.1,164.7 200.0,162.3C196.9,159.9 192.7,156.8 190.0,154.8C187.3,152.8 187.3,152.4 183.8,150.2C180.3,148.0 173.2,143.7 169.2,141.7C165.2,139.7 162.4,139.2 160.0,138.3C157.6,137.4 157.9,137.2 154.6,136.5C151.3,135.8 145.8,134.6 140.0,134.2C134.2,133.8 126.3,134.3 120.0,134.3C113.7,134.3 102.3,134.2 102.3,134.1C102.3,134.0 113.7,134.0 120.0,133.8C126.3,133.5 134.2,133.5 140.0,132.6C145.8,131.7 150.2,129.7 154.6,128.2C159.0,126.7 163.4,125.5 166.3,123.8C169.2,122.1 170.6,119.7 172.0,118.0C173.4,116.3 173.8,115.3 175.0,113.6C176.2,111.9 177.9,109.6 178.9,107.8C179.9,106.0 180.3,104.4 181.0,103.0C181.7,101.6 182.3,100.8 183.0,99.6C183.7,98.3 184.2,96.2 185.4,95.5C186.6,94.8 188.6,95.5 190.0,95.3C191.4,95.1 192.3,95.1 194.0,94.6C195.7,94.1 198.2,93.4 199.9,92.4C201.6,91.4 202.6,89.7 204.0,88.6C205.4,87.5 205.7,86.4 208.4,85.6C211.1,84.8 216.1,84.7 220.0,84.0C223.9,83.3 227.8,82.6 231.7,81.5C235.6,80.4 239.5,78.8 243.4,77.5C247.3,76.1 251.1,75.2 255.0,73.4C258.9,71.5 263.4,68.8 266.7,66.4C270.0,64.0 272.4,61.5 274.9,59.0C277.4,56.5 280.4,52.8 281.5,51.5" fill="none" stroke="#00f" stroke-width="2.4" stroke-linejoin="round" stroke-linecap="round"/>
<path d="M203.4,452.2C204.2,452.1 207.8,452.7 208.5,451.9C209.2,451.1 208.5,449.4 207.7,447.5C206.8,445.6 205.3,443.1 203.4,440.2C201.5,437.3 197.9,432.9 196.1,430.0C194.3,427.1 194.6,426.1 192.6,423.0C190.5,419.9 187.7,415.0 183.8,411.3C179.9,407.7 173.2,403.6 169.2,401.1C165.2,398.6 162.4,397.6 160.0,396.5C157.6,395.4 157.9,395.3 154.6,394.3C151.3,393.3 145.8,391.2 140.0,390.3C134.2,389.4 128.4,389.0 120.0,388.8C111.6,388.6 89.7,389.3 89.7,389.2C89.7,389.1 111.6,388.8 120.0,388.4C128.4,388.0 134.2,387.5 140.0,386.7C145.8,385.9 151.3,384.4 154.6,383.6C157.9,382.8 157.9,382.8 160.0,382.1C162.1,381.4 164.6,380.9 166.9,379.3C169.2,377.7 171.7,374.9 173.8,372.4C175.9,369.9 177.8,366.9 179.4,364.1C181.0,361.3 182.3,358.4 183.5,355.8C184.7,353.2 185.7,350.7 186.3,348.8C186.9,346.9 186.7,345.5 187.3,344.7C187.9,343.9 187.9,344.3 190.0,344.2C192.1,344.1 196.4,344.2 200.0,343.8C203.6,343.4 207.8,342.5 211.7,341.9C215.6,341.3 219.5,341.0 223.4,340.1C227.3,339.2 232.0,337.3 235.1,336.5C238.1,335.7 238.6,336.4 241.7,335.3C244.8,334.2 249.7,332.2 253.4,330.0C257.1,327.8 261.0,324.8 263.9,321.9C266.8,319.0 269.0,315.4 270.9,312.5C272.8,309.6 274.0,306.5 275.0,304.3C276.0,302.1 276.4,300.0 276.7,299.1" fill="none" stroke="#00f" stroke-width="2.4" stroke-linejoin="round" stroke-linecap="round"/>
<path d="M212.1,733.3C212.7,733.0 216.0,733.2 215.6,731.5C215.2,729.8 211.8,726.0 209.7,722.8C207.5,719.6 205.4,716.1 202.7,712.2C200.0,708.3 196.9,703.6 193.4,699.4C189.9,695.2 185.9,690.4 181.7,686.8C177.5,683.1 172.3,680.2 168.0,677.5C163.7,674.8 160.1,672.4 155.9,670.5C151.7,668.6 146.9,667.2 142.8,666.2C138.7,665.2 136.6,664.5 131.1,664.2C125.6,663.9 116.4,664.4 110.0,664.4C103.6,664.4 92.4,664.4 92.4,664.4C92.4,664.4 103.6,664.3 110.0,664.2C116.4,664.1 125.6,664.3 131.1,664.0C136.6,663.7 139.2,663.4 142.8,662.5C146.5,661.6 150.1,660.4 153.0,658.9C155.9,657.4 158.1,655.0 160.3,653.2C162.5,651.4 164.2,650.2 166.1,647.9C168.0,645.6 170.3,641.0 171.7,639.4C173.1,637.8 171.7,638.6 174.6,638.0C177.5,637.4 184.3,636.9 189.2,636.0C194.1,635.1 198.9,633.9 203.8,632.6C208.7,631.3 213.5,629.9 218.4,628.3C223.3,626.7 228.6,625.3 233.0,623.0C237.4,620.7 241.3,617.4 244.7,614.6C248.1,611.9 250.6,609.5 253.4,606.5C256.2,603.5 259.2,599.8 261.5,596.4C263.8,593.0 265.7,589.4 267.4,585.9C269.1,582.4 270.3,578.4 271.5,575.4C272.7,572.4 273.9,569.1 274.4,567.8" fill="none" stroke="#00f" stroke-width="2.4" stroke-linejoin="round" stroke-linecap="round"/>
<path d="M408.5,209.5L408.7,207.9L408.9,206.3L409.1,204.7L409.3,203.1L409.5,201.6L409.8,200.0L410.1,198.4L410.4,196.8L410.7,195.3L411.1,193.7L411.5,192.2L411.9,190.6L412.4,189.1L412.9,187.6L413.5,186.1L414.1,184.6L414.7,183.1L415.5,181.7L416.2,180.3L417.0,178.9L417.8,177.6L418.8,176.3L419.8,175.1L420.8,173.8L421.9,172.7L423.2,171.7L424.4,170.7L425.7,169.7L427.2,169.1L428.7,168.6L430.2,168.1L431.7,167.5L433.2,167.0L434.8,167.4L436.3,167.8L437.9,168.2L439.4,168.6L440.9,169.1L442.4,169.8L443.8,170.5L445.2,171.2L446.7,171.9L448.1,172.7L449.5,173.5L450.8,174.3L452.2,175.1L453.6,175.9L455.1,176.5L456.6,177.1L458.0,177.8L459.5,178.4L461.0,179.0L462.5,179.6L464.0,180.1L465.5,180.7L467.0,181.2L468.3,182.1L469.7,183.0L471.0,183.9L472.3,184.8L473.3,186.0L474.3,187.3L475.3,188.5L476.3,189.8L476.9,191.2L477.6,192.7L478.3,194.1L479.0,195.6L479.4,197.1L479.7,198.7L480.0,200.3L480.3,201.8L480.1,203.4L479.8,205.0L479.6,206.6L479.3,208.2" fill="none" stroke="#000" stroke-width="1.1" stroke-linejoin="round" stroke-linecap="round"/>
<rect x="405.9" y="206.9" width="5.2" height="5.2" fill="#000"/>
<rect x="406.1" y="205.3" width="5.2" height="5.2" fill="#000"/>
<rect x="406.3" y="203.7" width="5.2" height="5.2" fill="#000"/>
<rect x="406.5" y="202.1" width="5.2" height="5.2" fill="#000"/>
<rect x="406.7" y="200.5" width="5.2" height="5.2" fill="#000"/>
<rect x="406.9" y="199.0" width="5.2" height="5.2" fill="#000"/>
<rect x="407.2" y="197.4" width="5.2" height="5.2" fill="#000"/>
<rect x="407.5" y="195.8" width="5.2" height="5.2" fill="#000"/>
<rect x="407.8" y="194.2" width="5.2" height="5.2" fill="#000"/>
<rect x="408.1" y="192.7" width="5.2" height="5.2" fill="#000"/>
<rect x="408.5" y="191.1" width="5.2" height="5.2" fill="#000"/>
<rect x="408.9" y="189.6" width="5.2" height="5.2" fill="#000"/>
<rect x="409.3" y="188.0" width="5.2" height="5.2" fill="#000"/>
<rect x="409.8" y="186.5" width="5.2" height="5.2" fill="#000"/>
<rect x="410.3" y="185.0" width="5.2" height="5.2" fill="#000"/>
<rect x="410.9" y="183.5" width="5.2" height="5.2" fill="#000"/>
<rect x="411.5" y="182.0" width="5.2" height="5.2" fill="#000"/>
<rect x="412.1" y="180.5" width="5.2" height="5.2" fill="#000"/>
<rect x="412.9" y="179.1" width="5.2" height="5.2" fill="#000"/>
<rect x="413.6" y="177.7" width="5.2" height="5.2" fill="#000"/>
<rect x="414.4" y="176.3" width="5.2" height="5.2" fill="#000"/>
<rect x="415.2" y="175.0" width="5.2" height="5.2" fill="#000"/>
<rect x="416.2" y="173.7" width="5.2" height="5.2" fill="#000"/>
<rect x="417.2" y="172.5" width="5.2" height="5.2" fill="#000"/>
<rect x="418.2" y="171.2" width="5.2" height="5.2" fill="#000"/>
<rect x="419.3" y="170.1" width="5.2" height="5.2" fill="#000"/>
<rect x="420.6" y="169.1" width="5.2" height="5.2" fill="#000"/>
<rect x="421.8" y="168.1" width="5.2" height="5.2" fill="#000"/>
<rect x="423.1" y="167.1" width="5.2" height="5.2" fill="#000"/>
<rect x="424.6" y="166.5" width="5.2" height="5.2" fill="#000"/>
<rect x="426.1" y="166.0" width="5.2" height="5.2" fill="#000"/>
<rect x="427.6" y="165.5" width="5.2" height="5.2" fill="#000"/>
<rect x="429.1" y="164.9" width="5.2" height="5.2" fill="#000"/>
<rect x="430.6" y="164.4" width="5.2" height="5.2" fill="#000"/>
<rect x="432.2" y="164.8" width="5.2" height="5.2" fill="#000"/>
<rect x="433.7" y="165.2" width="5.2" height="5.2" fill="#000"/>
<rect x="435.3" y="165.6" width="5.2" height="5.2" fill="#000"/>
<rect x="436.8" y="166.0" width="5.2" height="5.2" fill="#000"/>
<rect x="438.3" y="166.5" width="5.2" height="5.2" fill="#000"/>
<rect x="439.8" y="167.2" width="5.2" height="5.2" fill="#000"/>
<rect x="441.2" y="167.9" width="5.2" height="5.2" fill="#000"/>
<rect x="442.6" y="168.6" width="5.2" height="5.2" fill="#000"/>
<rect x="444.1" y="169.3" width="5.2" height="5.2" fill="#000"/>
<rect x="445.5" y="170.1" width="5.2" height="5.2" fill="#000"/>
<rect x="446.9" y="170.9" width="5.2" height="5.2" fill="#000"/>
<rect x="448.2" y="171.7" width="5.2" height="5.2" fill="#000"/>
<rect x="449.6" y="172.5" width="5.2" height="5.2" fill="#000"/>
<rect x="451.0" y="173.3" width="5.2" height="5.2" fill="#000"/>
<rect x="452.5" y="173.9" width="5.2" height="5.2" fill="#000"/>
<rect x="454.0" y="174.5" width="5.2" height="5.2" fill="#000"/>
<rect x="455.4" y="175.2" width="5.2" height="5.2" fill="#000"/>
<rect x="456.9" y="175.8" width="5.2" height="5.2" fill="#000"/>
<rect x="458.4" y="176.4" width="5.2" height="5.2" fill="#000"/>
<rect x="459.9" y="177.0" width="5.2" height="5.2" fill="#000"/>
<rect x="461.4" y="177.5" width="5.2" height="5.2" fill="#000"/>
<rect x="462.9" y="178.1" width="5.2" height="5.2" fill="#000"/>
<rect x="464.4" y="178.6" width="5.2" height="5.2" fill="#000"/>
<rect x="465.7" y="179.5" width="5.2" height="5.2" fill="#000"/>
<rect x="467.1" y="180.4" width="5.2" height="5.2" fill="#000"/>
<rect x="468.4" y="181.3" width="5.2" height="5.2" fill="#000"/>
<rect x="469.7" y="182.2" width="5.2" height="5.2" fill="#000"/>
<rect x="470.7" y="183.4" width="5.2" height="5.2" fill="#000"/>
<rect x="471.7" y="184.7" width="5.2" height="5.2" fill="#000"/>
<rect x="472.7" y="185.9" width="5.2" height="5.2" fill="#000"/>
<rect x="473.7" y="187.2" width="5.2" height="5.2" fill="#000"/>
<rect x="474.3" y="188.6" width="5.2" height="5.2" fill="#000"/>
<rect x="475.0" y="190.1" width="5.2" height="5.2" fill="#000"/>
<rect x="475.7" y="191.5" width="5.2" height="5.2" fill="#000"/>
<rect x="476.4" y="193.0" width="5.2" height="5.2" fill="#000"/>
<rect x="476.8" y="194.5" width="5.2" height="5.2" fill="#000"/>
<rect x="477.1" y="196.1" width="5.2" height="5.2" fill="#000"/>
<rect x="477.4" y="197.7" width="5.2" height="5.2" fill="#000"/>
<rect x="477.7" y="199.2" width="5.2" height="5.2" fill="#000"/>
<rect x="477.5" y="200.8" width="5.2" height="5.2" fill="#000"/>
<rect x="477.2" y="202.4" width="5.2" height="5.2" fill="#000"/>
<rect x="477.0" y="204.0" width="5.2" height="5.2" fill="#000"/>
<rect x="476.7" y="205.6" width="5.2" height="5.2" fill="#000"/>
<path d="M408.5,209.5L408.5,207.0L408.6,204.5L408.6,202.0L408.6,199.5L408.7,197.0L408.8,194.5L409.4,191.2L410.3,188.1L411.6,183.7L413.7,179.2L416.0,173.6L418.2,167.0L421.6,159.8L425.5,152.4L430.3,145.0L435.8,137.7L442.6,131.6L449.9,126.8L457.2,123.1L464.7,120.7L472.3,118.9L479.6,117.7L487.2,117.0L494.4,116.1L502.1,115.3L510.1,114.9L518.2,115.3L526.5,117.8L534.7,121.9L542.8,126.6L549.6,133.6L555.0,139.7L561.8,145.0L568.5,154.1L572.1,166.4L573.7,178.5L574.8,185.9L573.0,198.0" fill="none" stroke="#f00" stroke-width="1.1" stroke-linejoin="round" stroke-linecap="round"/>
<circle cx="408.5" cy="209.5" r="3.00" fill="#f00"/>
<circle cx="408.5" cy="207.0" r="3.00" fill="#f00"/>
<circle cx="408.6" cy="204.5" r="3.00" fill="#f00"/>
<circle cx="408.6" cy="202.0" r="3.00" fill="#f00"/>
<circle cx="408.6" cy="199.5" r="3.00" fill="#f00"/>
<circle cx="408.7" cy="197.0" r="3.00" fill="#f00"/>
<circle cx="408.8" cy="194.5" r="3.00" fill="#f00"/>
<circle cx="409.4" cy="191.2" r="3.00" fill="#f00"/>
<circle cx="410.3" cy="188.1" r="3.00" fill="#f00"/>
<circle cx="411.6" cy="183.7" r="3.00" fill="#f00"/>
<circle cx="413.7" cy="179.2" r="3.00" fill="#f00"/>
<circle cx="416.0" cy="173.6" r="3.00" fill="#f00"/>
<circle cx="418.2" cy="167.0" r="3.00" fill="#f00"/>
<circle cx="421.6" cy="159.8" r="3.00" fill="#f00"/>
<circle cx="425.5" cy="152.4" r="3.00" fill="#f00"/>
<circle cx="430.3" cy="145.0" r="3.00" fill="#f00"/>
<circle cx="435.8" cy="137.7" r="3.00" fill="#f00"/>
<circle cx="442.6" cy="131.6" r="3.00" fill="#f00"/>
<circle cx="449.9" cy="126.8" r="3.00" fill="#f00"/>
<circle cx="457.2" cy="123.1" r="3.00" fill="#f00"/>
<circle cx="464.7" cy="120.7" r="3.00" fill="#f00"/>
<circle cx="472.3" cy="118.9" r="3.00" fill="#f00"/>
<circle cx="479.6" cy="117.7" r="3.00" fill="#f00"/>
<circle cx="487.2" cy="117.0" r="3.00" fill="#f00"/>
<circle cx="494.4" cy="116.1" r="3.00" fill="#f00"/>
<circle cx="502.1" cy="115.3" r="3.00" fill="#f00"/>
<circle cx="510.1" cy="114.9" r="3.00" fill="#f00"/>
<circle cx="518.2" cy="115.3" r="3.00" fill="#f00"/>
<circle cx="526.5" cy="117.8" r="3.00" fill="#f00"/>
<circle cx="534.7" cy="121.9" r="3.00" fill="#f00"/>
<circle cx="542.8" cy="126.6" r="3.00" fill="#f00"/>
<circle cx="549.6" cy="133.6" r="3.00" fill="#f00"/>
<circle cx="555.0" cy="139.7" r="3.00" fill="#f00"/>
<circle cx="561.8" cy="145.0" r="3.00" fill="#f00"/>
<circle cx="568.5" cy="154.1" r="3.00" fill="#f00"/>
<circle cx="572.1" cy="166.4" r="3.00" fill="#f00"/>
<circle cx="573.7" cy="178.5" r="3.00" fill="#f00"/>
<circle cx="574.8" cy="185.9" r="3.00" fill="#f00"/>
<circle cx="573.0" cy="198.0" r="3.00" fill="#f00"/>
<path d="M408.0,211.0L408.3,208.4L408.6,205.8L408.9,203.2L409.3,200.7L409.9,198.1L410.4,195.6L411.0,193.1L411.9,190.6L412.8,188.2L413.7,185.8L414.8,183.4L416.1,181.1L417.3,178.8L418.6,176.6L419.9,174.4L421.3,172.2L422.7,170.0L424.2,167.8L425.6,165.7L427.6,164.1L429.8,162.7L432.0,161.3L434.4,160.3L436.9,159.7L439.4,159.1L442.0,158.6L444.5,158.0L447.1,157.6L449.6,157.1L452.2,156.7L454.8,156.3L462.3,155.4L467.0,153.1L472.3,150.2L477.5,148.4L482.8,147.3L488.3,146.7L494.5,147.9L501.1,151.9L506.5,159.5L509.6,166.0L513.2,168.9L517.2,177.6L517.8,189.9L516.3,200.2L514.3,207.5L511.6,211.6L508.7,214.0" fill="none" stroke="#0f0" stroke-width="1.1" stroke-linejoin="round" stroke-linecap="round"/>
<path d="M408.0,207.5L411.8,213.6L404.2,213.6Z" fill="#0f0"/>
<path d="M408.3,204.9L412.1,211.0L404.5,211.0Z" fill="#0f0"/>
<path d="M408.6,202.3L412.4,208.4L404.8,208.4Z" fill="#0f0"/>
<path d="M408.9,199.7L412.7,205.8L405.1,205.8Z" fill="#0f0"/>
<path d="M409.3,197.2L413.1,203.3L405.5,203.3Z" fill="#0f0"/>
<path d="M409.9,194.6L413.7,200.7L406.1,200.7Z" fill="#0f0"/>
<path d="M410.4,192.1L414.2,198.2L406.6,198.2Z" fill="#0f0"/>
<path d="M411.0,189.6L414.8,195.7L407.2,195.7Z" fill="#0f0"/>
<path d="M411.9,187.1L415.7,193.2L408.1,193.2Z" fill="#0f0"/>
<path d="M412.8,184.7L416.6,190.8L409.0,190.8Z" fill="#0f0"/>
<path d="M413.7,182.3L417.5,188.4L409.9,188.4Z" fill="#0f0"/>
<path d="M414.8,179.9L418.6,186.0L411.0,186.0Z" fill="#0f0"/>
<path d="M416.1,177.6L419.9,183.7L412.3,183.7Z" fill="#0f0"/>
<path d="M417.3,175.3L421.1,181.4L413.5,181.4Z" fill="#0f0"/>
<path d="M418.6,173.1L422.4,179.2L414.8,179.2Z" fill="#0f0"/>
<path d="M419.9,170.9L423.7,177.0L416.1,177.0Z" fill="#0f0"/>
<path d="M421.3,168.7L425.1,174.8L417.5,174.8Z" fill="#0f0"/>
<path d="M422.7,166.5L426.5,172.6L418.9,172.6Z" fill="#0f0"/>
<path d="M424.2,164.3L428.0,170.4L420.4,170.4Z" fill="#0f0"/>
<path d="M425.6,162.2L429.4,168.3L421.8,168.3Z" fill="#0f0"/>
<path d="M427.6,160.6L431.4,166.7L423.8,166.7Z" fill="#0f0"/>
<path d="M429.8,159.2L433.6,165.3L426.0,165.3Z" fill="#0f0"/>
<path d="M432.0,157.8L435.8,163.9L428.2,163.9Z" fill="#0f0"/>
<path d="M434.4,156.8L438.2,162.9L430.6,162.9Z" fill="#0f0"/>
<path d="M436.9,156.2L440.7,162.3L433.1,162.3Z" fill="#0f0"/>
<path d="M439.4,155.6L443.2,161.7L435.6,161.7Z" fill="#0f0"/>
<path d="M442.0,155.1L445.8,161.2L438.2,161.2Z" fill="#0f0"/>
<path d="M444.5,154.5L448.3,160.6L440.7,160.6Z" fill="#0f0"/>
<path d="M447.1,154.1L450.9,160.2L443.3,160.2Z" fill="#0f0"/>
<path d="M449.6,153.6L453.4,159.7L445.8,159.7Z" fill="#0f0"/>
<path d="M452.2,153.2L456.0,159.3L448.4,159.3Z" fill="#0f0"/>
<path d="M454.8,152.8L458.6,158.9L451.0,158.9Z" fill="#0f0"/>
<path d="M462.3,151.9L466.1,158.0L458.5,158.0Z" fill="#0f0"/>
<path d="M467.0,149.6L470.8,155.7L463.2,155.7Z" fill="#0f0"/>
<path d="M472.3,146.7L476.1,152.8L468.5,152.8Z" fill="#0f0"/>
<path d="M477.5,144.9L481.3,151.0L473.7,151.0Z" fill="#0f0"/>
<path d="M482.8,143.8L486.6,149.9L479.0,149.9Z" fill="#0f0"/>
<path d="M488.3,143.2L492.1,149.3L484.5,149.3Z" fill="#0f0"/>
<path d="M494.5,144.4L498.3,150.5L490.7,150.5Z" fill="#0f0"/>
<path d="M501.1,148.4L504.9,154.5L497.3,154.5Z" fill="#0f0"/>
<path d="M506.5,156.0L510.3,162.1L502.7,162.1Z" fill="#0f0"/>
<path d="M509.6,162.5L513.4,168.6L505.8,168.6Z" fill="#0f0"/>
<path d="M513.2,165.4L517.0,171.5L509.4,171.5Z" fill="#0f0"/>
<path d="M517.2,174.1L521.0,180.2L513.4,180.2Z" fill="#0f0"/>
<path d="M517.8,186.4L521.6,192.5L514.0,192.5Z" fill="#0f0"/>
<path d="M516.3,196.7L520.1,202.8L512.5,202.8Z" fill="#0f0"/>
<path d="M514.3,204.0L518.1,210.1L510.5,210.1Z" fill="#0f0"/>
<path d="M511.6,208.1L515.4,214.2L507.8,214.2Z" fill="#0f0"/>
<path d="M508.7,210.5L512.5,216.6L504.9,216.6Z" fill="#0f0"/>
<path d="M408.0,210.5L408.3,208.1L408.7,205.7L409.0,203.4L409.3,201.0L409.8,198.6L410.2,196.3L410.7,193.9L411.3,191.6L412.1,189.4L412.9,187.1L413.9,184.9L415.1,182.8L416.3,180.7L417.6,178.8L419.2,176.9L420.7,175.1L422.6,173.7L424.6,172.3L426.7,171.2L429.1,170.8L431.4,170.4L433.8,170.5L436.1,170.9L438.5,171.3L440.7,172.3L442.7,173.6L444.7,174.9L446.4,176.5L447.9,178.4L449.5,180.2L450.9,182.1L452.3,184.1L453.6,186.1L455.0,188.1L456.3,190.1L457.6,192.1L459.0,194.1L460.3,196.1L461.6,198.1L462.9,200.1L463.9,202.3L464.8,204.5" fill="none" stroke="#00f" stroke-width="1.1" stroke-linejoin="round" stroke-linecap="round"/>
<path d="M408.0,213.7L411.3,208.1L404.7,208.1Z" fill="#00f"/>
<path d="M408.3,211.3L411.6,205.7L405.0,205.7Z" fill="#00f"/>
<path d="M408.7,208.9L412.0,203.3L405.4,203.3Z" fill="#00f"/>
<path d="M409.0,206.6L412.3,201.0L405.7,201.0Z" fill="#00f"/>
<path d="M409.3,204.2L412.6,198.6L406.0,198.6Z" fill="#00f"/>
<path d="M409.8,201.8L413.1,196.2L406.5,196.2Z" fill="#00f"/>
<path d="M410.2,199.5L413.5,193.9L406.9,193.9Z" fill="#00f"/>
<path d="M410.7,197.1L414.0,191.5L407.4,191.5Z" fill="#00f"/>
<path d="M411.3,194.8L414.6,189.2L408.0,189.2Z" fill="#00f"/>
<path d="M412.1,192.6L415.4,187.0L408.8,187.0Z" fill="#00f"/>
<path d="M412.9,190.3L416.2,184.7L409.6,184.7Z" fill="#00f"/>
<path d="M413.9,188.1L417.2,182.5L410.6,182.5Z" fill="#00f"/>
<path d="M415.1,186.0L418.4,180.4L411.8,180.4Z" fill="#00f"/>
<path d="M416.3,183.9L419.6,178.3L413.0,178.3Z" fill="#00f"/>
<path d="M417.6,182.0L420.9,176.4L414.3,176.4Z" fill="#00f"/>
<path d="M419.2,180.1L422.5,174.5L415.9,174.5Z" fill="#00f"/>
<path d="M420.7,178.3L424.0,172.7L417.4,172.7Z" fill="#00f"/>
<path d="M422.6,176.9L425.9,171.3L419.3,171.3Z" fill="#00f"/>
<path d="M424.6,175.5L427.9,169.9L421.3,169.9Z" fill="#00f"/>
<path d="M426.7,174.4L430.0,168.8L423.4,168.8Z" fill="#00f"/>
<path d="M429.1,174.0L432.4,168.4L425.8,168.4Z" fill="#00f"/>
<path d="M431.4,173.6L434.7,168.0L428.1,168.0Z" fill="#00f"/>
<path d="M433.8,173.7L437.1,168.1L430.5,168.1Z" fill="#00f"/>
<path d="M436.1,174.1L439.4,168.5L432.8,168.5Z" fill="#00f"/>
<path d="M438.5,174.5L441.8,168.9L435.2,168.9Z" fill="#00f"/>
<path d="M440.7,175.5L444.0,169.9L437.4,169.9Z" fill="#00f"/>
<path d="M442.7,176.8L446.0,171.2L439.4,171.2Z" fill="#00f"/>
<path d="M444.7,178.1L448.0,172.5L441.4,172.5Z" fill="#00f"/>
<path d="M446.4,179.7L449.7,174.1L443.1,174.1Z" fill="#00f"/>
<path d="M447.9,181.6L451.2,176.0L444.6,176.0Z" fill="#00f"/>
<path d="M449.5,183.4L452.8,177.8L446.2,177.8Z" fill="#00f"/>
<path d="M450.9,185.3L454.2,179.7L447.6,179.7Z" fill="#00f"/>
<path d="M452.3,187.3L455.6,181.7L449.0,181.7Z" fill="#00f"/>
<path d="M453.6,189.3L456.9,183.7L450.3,183.7Z" fill="#00f"/>
<path d="M455.0,191.3L458.3,185.7L451.7,185.7Z" fill="#00f"/>
<path d="M456.3,193.3L459.6,187.7L453.0,187.7Z" fill="#00f"/>
<path d="M457.6,195.3L460.9,189.7L454.3,189.7Z" fill="#00f"/>
<path d="M459.0,197.3L462.3,191.7L455.7,191.7Z" fill="#00f"/>
<path d="M460.3,199.3L463.6,193.7L457.0,193.7Z" fill="#00f"/>
<path d="M461.6,201.3L464.9,195.7L458.3,195.7Z" fill="#00f"/>
<path d="M462.9,203.3L466.2,197.7L459.6,197.7Z" fill="#00f"/>
<path d="M463.9,205.5L467.2,199.9L460.6,199.9Z" fill="#00f"/>
<path d="M464.8,207.7L468.1,202.1L461.5,202.1Z" fill="#00f"/>
<path d="M408.5,473.0L408.7,471.4L408.9,469.8L409.0,468.2L409.2,466.6L409.5,465.1L409.7,463.5L410.0,461.9L410.3,460.3L410.6,458.8L411.0,457.2L411.4,455.7L411.9,454.1L412.3,452.6L412.9,451.1L413.7,449.7L414.4,448.3L415.1,446.9L416.2,445.7L417.4,444.6L418.5,443.4L419.6,442.3L420.7,441.2L421.9,440.0L423.0,438.9L424.1,437.7L425.2,436.6L426.3,435.5L427.7,434.7L429.1,433.9L430.6,433.2L432.0,432.5L433.4,431.8L435.0,431.9L436.6,432.1L438.2,432.3L439.8,432.5L441.3,432.9L442.7,433.6L444.2,434.4L445.6,435.1L447.0,435.8L448.4,436.5L449.9,437.2L451.3,437.9L452.8,438.6L454.2,439.3L455.6,440.0L457.1,440.6L458.6,441.2L460.1,441.9L461.5,442.5L462.9,443.4L464.1,444.4L465.4,445.4L466.6,446.4L467.9,447.4L468.9,448.6L469.9,449.8L470.9,451.1L472.0,452.3L473.0,453.5L474.0,454.8L474.8,456.1L475.7,457.4L476.6,458.8L477.5,460.1L478.4,461.4L478.9,463.0L479.3,464.5L479.8,466.0L480.0,467.6L479.7,469.1L479.4,470.7L479.2,472.3" fill="none" stroke="#000" stroke-width="1.1" stroke-linejoin="round" stroke-linecap="round"/>
<rect x="405.9" y="470.4" width="5.2" height="5.2" fill="#000"/>
<rect x="406.1" y="468.8" width="5.2" height="5.2" fill="#000"/>
<rect x="406.3" y="467.2" width="5.2" height="5.2" fill="#000"/>
<rect x="406.4" y="465.6" width="5.2" height="5.2" fill="#000"/>
<rect x="406.6" y="464.0" width="5.2" height="5.2" fill="#000"/>
<rect x="406.9" y="462.5" width="5.2" height="5.2" fill="#000"/>
<rect x="407.1" y="460.9" width="5.2" height="5.2" fill="#000"/>
<rect x="407.4" y="459.3" width="5.2" height="5.2" fill="#000"/>
<rect x="407.7" y="457.7" width="5.2" height="5.2" fill="#000"/>
<rect x="408.0" y="456.2" width="5.2" height="5.2" fill="#000"/>
<rect x="408.4" y="454.6" width="5.2" height="5.2" fill="#000"/>
<rect x="408.8" y="453.1" width="5.2" height="5.2" fill="#000"/>
<rect x="409.3" y="451.5" width="5.2" height="5.2" fill="#000"/>
<rect x="409.7" y="450.0" width="5.2" height="5.2" fill="#000"/>
<rect x="410.3" y="448.5" width="5.2" height="5.2" fill="#000"/>
<rect x="411.1" y="447.1" width="5.2" height="5.2" fill="#000"/>
<rect x="411.8" y="445.7" width="5.2" height="5.2" fill="#000"/>
<rect x="412.5" y="444.3" width="5.2" height="5.2" fill="#000"/>
<rect x="413.6" y="443.1" width="5.2" height="5.2" fill="#000"/>
<rect x="414.8" y="442.0" width="5.2" height="5.2" fill="#000"/>
<rect x="415.9" y="440.8" width="5.2" height="5.2" fill="#000"/>
<rect x="417.0" y="439.7" width="5.2" height="5.2" fill="#000"/>
<rect x="418.1" y="438.6" width="5.2" height="5.2" fill="#000"/>
<rect x="419.3" y="437.4" width="5.2" height="5.2" fill="#000"/>
<rect x="420.4" y="436.3" width="5.2" height="5.2" fill="#000"/>
<rect x="421.5" y="435.1" width="5.2" height="5.2" fill="#000"/>
<rect x="422.6" y="434.0" width="5.2" height="5.2" fill="#000"/>
<rect x="423.7" y="432.9" width="5.2" height="5.2" fill="#000"/>
<rect x="425.1" y="432.1" width="5.2" height="5.2" fill="#000"/>
<rect x="426.5" y="431.3" width="5.2" height="5.2" fill="#000"/>
<rect x="428.0" y="430.6" width="5.2" height="5.2" fill="#000"/>
<rect x="429.4" y="429.9" width="5.2" height="5.2" fill="#000"/>
<rect x="430.8" y="429.2" width="5.2" height="5.2" fill="#000"/>
<rect x="432.4" y="429.3" width="5.2" height="5.2" fill="#000"/>
<rect x="434.0" y="429.5" width="5.2" height="5.2" fill="#000"/>
<rect x="435.6" y="429.7" width="5.2" height="5.2" fill="#000"/>
<rect x="437.2" y="429.9" width="5.2" height="5.2" fill="#000"/>
<rect x="438.7" y="430.3" width="5.2" height="5.2" fill="#000"/>
<rect x="440.1" y="431.0" width="5.2" height="5.2" fill="#000"/>
<rect x="441.6" y="431.8" width="5.2" height="5.2" fill="#000"/>
<rect x="443.0" y="432.5" width="5.2" height="5.2" fill="#000"/>
<rect x="444.4" y="433.2" width="5.2" height="5.2" fill="#000"/>
<rect x="445.8" y="433.9" width="5.2" height="5.2" fill="#000"/>
<rect x="447.3" y="434.6" width="5.2" height="5.2" fill="#000"/>
<rect x="448.7" y="435.3" width="5.2" height="5.2" fill="#000"/>
<rect x="450.2" y="436.0" width="5.2" height="5.2" fill="#000"/>
<rect x="451.6" y="436.7" width="5.2" height="5.2" fill="#000"/>
<rect x="453.0" y="437.4" width="5.2" height="5.2" fill="#000"/>
<rect x="454.5" y="438.0" width="5.2" height="5.2" fill="#000"/>
<rect x="456.0" y="438.6" width="5.2" height="5.2" fill="#000"/>
<rect x="457.5" y="439.3" width="5.2" height="5.2" fill="#000"/>
<rect x="458.9" y="439.9" width="5.2" height="5.2" fill="#000"/>
<rect x="460.3" y="440.8" width="5.2" height="5.2" fill="#000"/>
<rect x="461.5" y="441.8" width="5.2" height="5.2" fill="#000"/>
<rect x="462.8" y="442.8" width="5.2" height="5.2" fill="#000"/>
<rect x="464.0" y="443.8" width="5.2" height="5.2" fill="#000"/>
<rect x="465.3" y="444.8" width="5.2" height="5.2" fill="#000"/>
<rect x="466.3" y="446.0" width="5.2" height="5.2" fill="#000"/>
<rect x="467.3" y="447.2" width="5.2" height="5.2" fill="#000"/>
<rect x="468.3" y="448.5" width="5.2" height="5.2" fill="#000"/>
<rect x="469.4" y="449.7" width="5.2" height="5.2" fill="#000"/>
<rect x="470.4" y="450.9" width="5.2" height="5.2" fill="#000"/>
<rect x="471.4" y="452.2" width="5.2" height="5.2" fill="#000"/>
<rect x="472.2" y="453.5" width="5.2" height="5.2" fill="#000"/>
<rect x="473.1" y="454.8" width="5.2" height="5.2" fill="#000"/>
<rect x="474.0" y="456.2" width="5.2" height="5.2" fill="#000"/>
<rect x="474.9" y="457.5" width="5.2" height="5.2" fill="#000"/>
<rect x="475.8" y="458.8" width="5.2" height="5.2" fill="#000"/>
<rect x="476.3" y="460.4" width="5.2" height="5.2" fill="#000"/>
<rect x="476.7" y="461.9" width="5.2" height="5.2" fill="#000"/>
<rect x="477.2" y="463.4" width="5.2" height="5.2" fill="#000"/>
<rect x="477.4" y="465.0" width="5.2" height="5.2" fill="#000"/>
<rect x="477.1" y="466.5" width="5.2" height="5.2" fill="#000"/>
<rect x="476.8" y="468.1" width="5.2" height="5.2" fill="#000"/>
<rect x="476.6" y="469.7" width="5.2" height="5.2" fill="#000"/>
<path d="M408.5,473.0L408.7,470.5L408.8,468.0L409.0,465.5L409.3,463.0L409.7,460.6L410.1,458.1L410.6,455.7L411.2,453.2L411.8,450.8L412.4,448.4L413.2,446.0L414.1,443.7L414.9,441.3L416.0,439.1L417.2,436.9L420.4,431.7L424.5,427.1L429.1,422.5L434.7,419.4L440.3,418.2L446.0,418.4L451.6,420.2L456.7,423.0L459.7,426.4L460.9,428.0L462.1,429.6L463.3,431.2L464.5,432.8L465.7,434.4L466.9,436.0L468.1,437.6L469.2,439.3L470.4,440.9L471.5,442.5L472.7,444.1L474.0,445.7L475.3,447.2L476.6,448.7L477.9,450.3L479.2,451.7L480.6,453.1L482.0,454.5L483.5,456.0L484.8,457.4L486.1,458.9L487.5,460.4L488.5,462.1L489.1,464.0L489.6,465.9" fill="none" stroke="#f00" stroke-width="1.1" stroke-linejoin="round" stroke-linecap="round"/>
<circle cx="408.5" cy="473.0" r="3.00" fill="#f00"/>
<circle cx="408.7" cy="470.5" r="3.00" fill="#f00"/>
<circle cx="408.8" cy="468.0" r="3.00" fill="#f00"/>
<circle cx="409.0" cy="465.5" r="3.00" fill="#f00"/>
<circle cx="409.3" cy="463.0" r="3.00" fill="#f00"/>
<circle cx="409.7" cy="460.6" r="3.00" fill="#f00"/>
<circle cx="410.1" cy="458.1" r="3.00" fill="#f00"/>
<circle cx="410.6" cy="455.7" r="3.00" fill="#f00"/>
<circle cx="411.2" cy="453.2" r="3.00" fill="#f00"/>
<circle cx="411.8" cy="450.8" r="3.00" fill="#f00"/>
<circle cx="412.4" cy="448.4" r="3.00" fill="#f00"/>
<circle cx="413.2" cy="446.0" r="3.00" fill="#f00"/>
<circle cx="414.1" cy="443.7" r="3.00" fill="#f00"/>
<circle cx="414.9" cy="441.3" r="3.00" fill="#f00"/>
<circle cx="416.0" cy="439.1" r="3.00" fill="#f00"/>
<circle cx="417.2" cy="436.9" r="3.00" fill="#f00"/>
<circle cx="420.4" cy="431.7" r="3.00" fill="#f00"/>
<circle cx="424.5" cy="427.1" r="3.00" fill="#f00"/>
<circle cx="429.1" cy="422.5" r="3.00" fill="#f00"/>
<circle cx="434.7" cy="419.4" r="3.00" fill="#f00"/>
<circle cx="440.3" cy="418.2" r="3.00" fill="#f00"/>
<circle cx="446.0" cy="418.4" r="3.00" fill="#f00"/>
<circle cx="451.6" cy="420.2" r="3.00" fill="#f00"/>
<circle cx="456.7" cy="423.0" r="3.00" fill="#f00"/>
<circle cx="459.7" cy="426.4" r="3.00" fill="#f00"/>
<circle cx="460.9" cy="428.0" r="3.00" fill="#f00"/>
<circle cx="462.1" cy="429.6" r="3.00" fill="#f00"/>
<circle cx="463.3" cy="431.2" r="3.00" fill="#f00"/>
<circle cx="464.5" cy="432.8" r="3.00" fill="#f00"/>
<circle cx="465.7" cy="434.4" r="3.00" fill="#f00"/>
<circle cx="466.9" cy="436.0" r="3.00" fill="#f00"/>
<circle cx="468.1" cy="437.6" r="3.00" fill="#f00"/>
<circle cx="469.2" cy="439.3" r="3.00" fill="#f00"/>
<circle cx="470.4" cy="440.9" r="3.00" fill="#f00"/>
<circle cx="471.5" cy="442.5" r="3.00" fill="#f00"/>
<circle cx="472.7" cy="444.1" r="3.00" fill="#f00"/>
<circle cx="474.0" cy="445.7" r="3.00" fill="#f00"/>
<circle cx="475.3" cy="447.2" r="3.00" fill="#f00"/>
<circle cx="476.6" cy="448.7" r="3.00" fill="#f00"/>
<circle cx="477.9" cy="450.3" r="3.00" fill="#f00"/>
<circle cx="479.2" cy="451.7" r="3.00" fill="#f00"/>
<circle cx="480.6" cy="453.1" r="3.00" fill="#f00"/>
<circle cx="482.0" cy="454.5" r="3.00" fill="#f00"/>
<circle cx="483.5" cy="456.0" r="3.00" fill="#f00"/>
<circle cx="484.8" cy="457.4" r="3.00" fill="#f00"/>
<circle cx="486.1" cy="458.9" r="3.00" fill="#f00"/>
<circle cx="487.5" cy="460.4" r="3.00" fill="#f00"/>
<circle cx="488.5" cy="462.1" r="3.00" fill="#f00"/>
<circle cx="489.1" cy="464.0" r="3.00" fill="#f00"/>
<circle cx="489.6" cy="465.9" r="3.00" fill="#f00"/>
<path d="M408.7,474.6L409.0,472.0L409.3,469.4L409.6,466.8L409.9,464.3L410.2,461.7L410.5,459.1L410.9,456.5L411.2,454.0L411.6,451.4L412.2,448.9L412.8,446.3L414.8,437.3L416.9,430.1L419.6,422.0L422.7,413.1L427.1,402.6L432.4,391.2L439.1,380.0L447.4,369.3L456.9,359.1L467.4,350.8L478.8,344.5L490.5,339.4L502.8,337.5L515.3,337.8L527.2,339.0L538.2,340.1L549.6,343.4L560.1,347.0L570.3,352.8L580.4,360.0L589.7,364.2L597.4,371.5L604.4,382.8L613.3,386.2L622.0,394.7L628.0,413.4L630.3,431.0L631.0,441.5L632.3,445.9L639.1,448.1" fill="none" stroke="#0f0" stroke-width="1.1" stroke-linejoin="round" stroke-linecap="round"/>
<path d="M408.7,471.1L412.5,477.2L404.9,477.2Z" fill="#0f0"/>
<path d="M409.0,468.5L412.8,474.6L405.2,474.6Z" fill="#0f0"/>
<path d="M409.3,465.9L413.1,472.0L405.5,472.0Z" fill="#0f0"/>
<path d="M409.6,463.3L413.4,469.4L405.8,469.4Z" fill="#0f0"/>
<path d="M409.9,460.8L413.7,466.9L406.1,466.9Z" fill="#0f0"/>
<path d="M410.2,458.2L414.0,464.3L406.4,464.3Z" fill="#0f0"/>
<path d="M410.5,455.6L414.3,461.7L406.7,461.7Z" fill="#0f0"/>
<path d="M410.9,453.0L414.7,459.1L407.1,459.1Z" fill="#0f0"/>
<path d="M411.2,450.5L415.0,456.6L407.4,456.6Z" fill="#0f0"/>
<path d="M411.6,447.9L415.4,454.0L407.8,454.0Z" fill="#0f0"/>
<path d="M412.2,445.4L416.0,451.5L408.4,451.5Z" fill="#0f0"/>
<path d="M412.8,442.8L416.6,448.9L409.0,448.9Z" fill="#0f0"/>
<path d="M414.8,433.8L418.6,439.9L411.0,439.9Z" fill="#0f0"/>
<path d="M416.9,426.6L420.7,432.7L413.1,432.7Z" fill="#0f0"/>
<path d="M419.6,418.5L423.4,424.6L415.8,424.6Z" fill="#0f0"/>
<path d="M422.7,409.6L426.5,415.7L418.9,415.7Z" fill="#0f0"/>
<path d="M427.1,399.1L430.9,405.2L423.3,405.2Z" fill="#0f0"/>
<path d="M432.4,387.7L436.2,393.8L428.6,393.8Z" fill="#0f0"/>
<path d="M439.1,376.5L442.9,382.6L435.3,382.6Z" fill="#0f0"/>
<path d="M447.4,365.8L451.2,371.9L443.6,371.9Z" fill="#0f0"/>
<path d="M456.9,355.6L460.7,361.7L453.1,361.7Z" fill="#0f0"/>
<path d="M467.4,347.3L471.2,353.4L463.6,353.4Z" fill="#0f0"/>
<path d="M478.8,341.0L482.6,347.1L475.0,347.1Z" fill="#0f0"/>
<path d="M490.5,335.9L494.3,342.0L486.7,342.0Z" fill="#0f0"/>
<path d="M502.8,334.0L506.6,340.1L499.0,340.1Z" fill="#0f0"/>
<path d="M515.3,334.3L519.1,340.4L511.5,340.4Z" fill="#0f0"/>
<path d="M527.2,335.5L531.0,341.6L523.4,341.6Z" fill="#0f0"/>
<path d="M538.2,336.6L542.0,342.7L534.4,342.7Z" fill="#0f0"/>
<path d="M549.6,339.9L553.4,346.0L545.8,346.0Z" fill="#0f0"/>
<path d="M560.1,343.5L563.9,349.6L556.3,349.6Z" fill="#0f0"/>
<path d="M570.3,349.3L574.1,355.4L566.5,355.4Z" fill="#0f0"/>
<path d="M580.4,356.5L584.2,362.6L576.6,362.6Z" fill="#0f0"/>
<path d="M589.7,360.7L593.5,366.8L585.9,366.8Z" fill="#0f0"/>
<path d="M597.4,368.0L601.2,374.1L593.6,374.1Z" fill="#0f0"/>
<path d="M604.4,379.3L608.2,385.4L600.6,385.4Z" fill="#0f0"/>
<path d="M613.3,382.7L617.1,388.8L609.5,388.8Z" fill="#0f0"/>
<path d="M622.0,391.2L625.8,397.3L618.2,397.3Z" fill="#0f0"/>
<path d="M628.0,409.9L631.8,416.0L624.2,416.0Z" fill="#0f0"/>
<path d="M630.3,427.5L634.1,433.6L626.5,433.6Z" fill="#0f0"/>
<path d="M631.0,438.0L634.8,444.1L627.2,444.1Z" fill="#0f0"/>
<path d="M632.3,442.4L636.1,448.5L628.5,448.5Z" fill="#0f0"/>
<path d="M639.1,444.6L642.9,450.7L635.3,450.7Z" fill="#0f0"/>
<path d="M409.0,474.0L409.2,472.1L409.5,470.2L409.7,468.3L409.9,466.5L410.2,464.6L410.4,462.7L410.7,460.8L411.1,458.9L411.4,457.1L411.8,455.2L412.2,453.4L412.5,451.5L413.1,449.7L413.7,447.9L414.4,446.1L415.0,444.3L415.7,442.6L416.6,440.9L417.5,439.2L418.4,437.5L419.3,435.9L420.4,434.3L421.5,432.8L422.7,431.2L423.9,429.8L425.5,428.8L427.1,427.7L428.6,426.7L430.3,425.7L432.0,425.0L433.8,424.3L435.6,423.6L437.4,423.4L439.3,423.2L441.2,423.1L443.1,423.3L444.9,423.7L446.8,424.2L448.6,424.8L450.3,425.7L451.9,426.6L453.6,427.5L455.3,428.3L457.1,429.1L458.8,429.8L460.6,430.5L462.3,431.2L464.0,432.1L465.7,432.9L467.4,433.8L469.1,434.7L470.7,435.6L477.2,436.9L483.6,439.2L486.5,441.5L488.9,447.4L493.6,445.6L498.2,450.9L502.9,462.6L505.8,467.8" fill="none" stroke="#00f" stroke-width="1.1" stroke-linejoin="round" stroke-linecap="round"/>
<path d="M409.0,477.2L412.3,471.6L405.7,471.6Z" fill="#00f"/>
<path d="M409.2,475.3L412.5,469.7L405.9,469.7Z" fill="#00f"/>
<path d="M409.5,473.4L412.8,467.8L406.2,467.8Z" fill="#00f"/>
<path d="M409.7,471.5L413.0,465.9L406.4,465.9Z" fill="#00f"/>
<path d="M409.9,469.7L413.2,464.1L406.6,464.1Z" fill="#00f"/>
<path d="M410.2,467.8L413.5,462.2L406.9,462.2Z" fill="#00f"/>
<path d="M410.4,465.9L413.7,460.3L407.1,460.3Z" fill="#00f"/>
<path d="M410.7,464.0L414.0,458.4L407.4,458.4Z" fill="#00f"/>
<path d="M411.1,462.1L414.4,456.5L407.8,456.5Z" fill="#00f"/>
<path d="M411.4,460.3L414.7,454.7L408.1,454.7Z" fill="#00f"/>
<path d="M411.8,458.4L415.1,452.8L408.5,452.8Z" fill="#00f"/>
<path d="M412.2,456.6L415.5,451.0L408.9,451.0Z" fill="#00f"/>
<path d="M412.5,454.7L415.8,449.1L409.2,449.1Z" fill="#00f"/>
<path d="M413.1,452.9L416.4,447.3L409.8,447.3Z" fill="#00f"/>
<path d="M413.7,451.1L417.0,445.5L410.4,445.5Z" fill="#00f"/>
<path d="M414.4,449.3L417.7,443.7L411.1,443.7Z" fill="#00f"/>
<path d="M415.0,447.5L418.3,441.9L411.7,441.9Z" fill="#00f"/>
<path d="M415.7,445.8L419.0,440.2L412.4,440.2Z" fill="#00f"/>
<path d="M416.6,444.1L419.9,438.5L413.3,438.5Z" fill="#00f"/>
<path d="M417.5,442.4L420.8,436.8L414.2,436.8Z" fill="#00f"/>
<path d="M418.4,440.7L421.7,435.1L415.1,435.1Z" fill="#00f"/>
<path d="M419.3,439.1L422.6,433.5L416.0,433.5Z" fill="#00f"/>
<path d="M420.4,437.5L423.7,431.9L417.1,431.9Z" fill="#00f"/>
<path d="M421.5,436.0L424.8,430.4L418.2,430.4Z" fill="#00f"/>
<path d="M422.7,434.4L426.0,428.8L419.4,428.8Z" fill="#00f"/>
<path d="M423.9,433.0L427.2,427.4L420.6,427.4Z" fill="#00f"/>
<path d="M425.5,432.0L428.8,426.4L422.2,426.4Z" fill="#00f"/>
<path d="M427.1,430.9L430.4,425.3L423.8,425.3Z" fill="#00f"/>
<path d="M428.6,429.9L431.9,424.3L425.3,424.3Z" fill="#00f"/>
<path d="M430.3,428.9L433.6,423.3L427.0,423.3Z" fill="#00f"/>
<path d="M432.0,428.2L435.3,422.6L428.7,422.6Z" fill="#00f"/>
<path d="M433.8,427.5L437.1,421.9L430.5,421.9Z" fill="#00f"/>
<path d="M435.6,426.8L438.9,421.2L432.3,421.2Z" fill="#00f"/>
<path d="M437.4,426.6L440.7,421.0L434.1,421.0Z" fill="#00f"/>
<path d="M439.3,426.4L442.6,420.8L436.0,420.8Z" fill="#00f"/>
<path d="M441.2,426.3L444.5,420.7L437.9,420.7Z" fill="#00f"/>
<path d="M443.1,426.5L446.4,420.9L439.8,420.9Z" fill="#00f"/>
<path d="M444.9,426.9L448.2,421.3L441.6,421.3Z" fill="#00f"/>
<path d="M446.8,427.4L450.1,421.8L443.5,421.8Z" fill="#00f"/>
<path d="M448.6,428.0L451.9,422.4L445.3,422.4Z" fill="#00f"/>
<path d="M450.3,428.9L453.6,423.3L447.0,423.3Z" fill="#00f"/>
<path d="M451.9,429.8L455.2,424.2L448.6,424.2Z" fill="#00f"/>
<path d="M453.6,430.7L456.9,425.1L450.3,425.1Z" fill="#00f"/>
<path d="M455.3,431.5L458.6,425.9L452.0,425.9Z" fill="#00f"/>
<path d="M457.1,432.3L460.4,426.7L453.8,426.7Z" fill="#00f"/>
<path d="M458.8,433.0L462.1,427.4L455.5,427.4Z" fill="#00f"/>
<path d="M460.6,433.7L463.9,428.1L457.3,428.1Z" fill="#00f"/>
<path d="M462.3,434.4L465.6,428.8L459.0,428.8Z" fill="#00f"/>
<path d="M464.0,435.3L467.3,429.7L460.7,429.7Z" fill="#00f"/>
<path d="M465.7,436.1L469.0,430.5L462.4,430.5Z" fill="#00f"/>
<path d="M467.4,437.0L470.7,431.4L464.1,431.4Z" fill="#00f"/>
<path d="M469.1,437.9L472.4,432.3L465.8,432.3Z" fill="#00f"/>
<path d="M470.7,438.8L474.0,433.2L467.4,433.2Z" fill="#00f"/>
<path d="M477.2,440.1L480.5,434.5L473.9,434.5Z" fill="#00f"/>
<path d="M483.6,442.4L486.9,436.8L480.3,436.8Z" fill="#00f"/>
<path d="M486.5,444.7L489.8,439.1L483.2,439.1Z" fill="#00f"/>
<path d="M488.9,450.6L492.2,445.0L485.6,445.0Z" fill="#00f"/>
<path d="M493.6,448.8L496.9,443.2L490.3,443.2Z" fill="#00f"/>
<path d="M498.2,454.1L501.5,448.5L494.9,448.5Z" fill="#00f"/>
<path d="M502.9,465.8L506.2,460.2L499.6,460.2Z" fill="#00f"/>
<path d="M505.8,471.0L509.1,465.4L502.5,465.4Z" fill="#00f"/>
<path d="M410.0,737.0L410.2,735.4L410.4,733.8L410.5,732.2L410.7,730.6L411.0,729.1L411.2,727.5L411.5,725.9L411.8,724.3L412.1,722.8L412.5,721.2L412.9,719.7L413.4,718.1L413.8,716.6L414.4,715.1L415.0,713.6L415.6,712.2L416.3,710.7L416.9,709.2L417.8,707.9L418.7,706.6L419.6,705.3L420.5,704.0L421.6,702.8L422.7,701.6L423.7,700.4L425.1,699.5L426.5,698.7L427.8,697.9L429.2,697.1L430.6,696.3L432.1,695.8L433.7,695.6L435.3,695.3L436.8,695.0L438.4,694.9L440.0,695.2L441.5,695.6L443.1,696.0L444.6,696.4L446.1,697.0L447.5,697.7L449.0,698.4L450.4,699.1L451.8,699.8L453.2,700.6L454.5,701.5L455.9,702.4L457.2,703.3L458.5,704.2L459.9,705.1L461.3,705.7L462.8,706.3L464.3,706.9L465.8,707.5L467.3,708.1L468.8,708.6L470.0,709.7L471.2,710.7L472.4,711.8L473.6,712.8L474.5,714.1L475.4,715.5L476.3,716.8L477.2,718.1L478.1,719.4L478.9,720.8L479.6,722.3L480.4,723.7L481.2,725.1L481.5,726.6L481.8,728.2L482.1,729.8L482.4,731.3L482.2,732.9L482.0,734.5L481.8,736.1" fill="none" stroke="#000" stroke-width="1.1" stroke-linejoin="round" stroke-linecap="round"/>
<rect x="407.4" y="734.4" width="5.2" height="5.2" fill="#000"/>
<rect x="407.6" y="732.8" width="5.2" height="5.2" fill="#000"/>
<rect x="407.8" y="731.2" width="5.2" height="5.2" fill="#000"/>
<rect x="407.9" y="729.6" width="5.2" height="5.2" fill="#000"/>
<rect x="408.1" y="728.0" width="5.2" height="5.2" fill="#000"/>
<rect x="408.4" y="726.5" width="5.2" height="5.2" fill="#000"/>
<rect x="408.6" y="724.9" width="5.2" height="5.2" fill="#000"/>
<rect x="408.9" y="723.3" width="5.2" height="5.2" fill="#000"/>
<rect x="409.2" y="721.7" width="5.2" height="5.2" fill="#000"/>
<rect x="409.5" y="720.2" width="5.2" height="5.2" fill="#000"/>
<rect x="409.9" y="718.6" width="5.2" height="5.2" fill="#000"/>
<rect x="410.3" y="717.1" width="5.2" height="5.2" fill="#000"/>
<rect x="410.8" y="715.5" width="5.2" height="5.2" fill="#000"/>
<rect x="411.2" y="714.0" width="5.2" height="5.2" fill="#000"/>
<rect x="411.8" y="712.5" width="5.2" height="5.2" fill="#000"/>
<rect x="412.4" y="711.0" width="5.2" height="5.2" fill="#000"/>
<rect x="413.0" y="709.6" width="5.2" height="5.2" fill="#000"/>
<rect x="413.7" y="708.1" width="5.2" height="5.2" fill="#000"/>
<rect x="414.3" y="706.6" width="5.2" height="5.2" fill="#000"/>
<rect x="415.2" y="705.3" width="5.2" height="5.2" fill="#000"/>
<rect x="416.1" y="704.0" width="5.2" height="5.2" fill="#000"/>
<rect x="417.0" y="702.7" width="5.2" height="5.2" fill="#000"/>
<rect x="417.9" y="701.4" width="5.2" height="5.2" fill="#000"/>
<rect x="419.0" y="700.2" width="5.2" height="5.2" fill="#000"/>
<rect x="420.1" y="699.0" width="5.2" height="5.2" fill="#000"/>
<rect x="421.1" y="697.8" width="5.2" height="5.2" fill="#000"/>
<rect x="422.5" y="696.9" width="5.2" height="5.2" fill="#000"/>
<rect x="423.9" y="696.1" width="5.2" height="5.2" fill="#000"/>
<rect x="425.2" y="695.3" width="5.2" height="5.2" fill="#000"/>
<rect x="426.6" y="694.5" width="5.2" height="5.2" fill="#000"/>
<rect x="428.0" y="693.7" width="5.2" height="5.2" fill="#000"/>
<rect x="429.5" y="693.2" width="5.2" height="5.2" fill="#000"/>
<rect x="431.1" y="693.0" width="5.2" height="5.2" fill="#000"/>
<rect x="432.7" y="692.7" width="5.2" height="5.2" fill="#000"/>
<rect x="434.2" y="692.4" width="5.2" height="5.2" fill="#000"/>
<rect x="435.8" y="692.3" width="5.2" height="5.2" fill="#000"/>
<rect x="437.4" y="692.6" width="5.2" height="5.2" fill="#000"/>
<rect x="438.9" y="693.0" width="5.2" height="5.2" fill="#000"/>
<rect x="440.5" y="693.4" width="5.2" height="5.2" fill="#000"/>
<rect x="442.0" y="693.8" width="5.2" height="5.2" fill="#000"/>
<rect x="443.5" y="694.4" width="5.2" height="5.2" fill="#000"/>
<rect x="444.9" y="695.1" width="5.2" height="5.2" fill="#000"/>
<rect x="446.4" y="695.8" width="5.2" height="5.2" fill="#000"/>
<rect x="447.8" y="696.5" width="5.2" height="5.2" fill="#000"/>
<rect x="449.2" y="697.2" width="5.2" height="5.2" fill="#000"/>
<rect x="450.6" y="698.0" width="5.2" height="5.2" fill="#000"/>
<rect x="451.9" y="698.9" width="5.2" height="5.2" fill="#000"/>
<rect x="453.3" y="699.8" width="5.2" height="5.2" fill="#000"/>
<rect x="454.6" y="700.7" width="5.2" height="5.2" fill="#000"/>
<rect x="455.9" y="701.6" width="5.2" height="5.2" fill="#000"/>
<rect x="457.3" y="702.5" width="5.2" height="5.2" fill="#000"/>
<rect x="458.7" y="703.1" width="5.2" height="5.2" fill="#000"/>
<rect x="460.2" y="703.7" width="5.2" height="5.2" fill="#000"/>
<rect x="461.7" y="704.3" width="5.2" height="5.2" fill="#000"/>
<rect x="463.2" y="704.9" width="5.2" height="5.2" fill="#000"/>
<rect x="464.7" y="705.5" width="5.2" height="5.2" fill="#000"/>
<rect x="466.2" y="706.0" width="5.2" height="5.2" fill="#000"/>
<rect x="467.4" y="707.1" width="5.2" height="5.2" fill="#000"/>
<rect x="468.6" y="708.1" width="5.2" height="5.2" fill="#000"/>
<rect x="469.8" y="709.2" width="5.2" height="5.2" fill="#000"/>
<rect x="471.0" y="710.2" width="5.2" height="5.2" fill="#000"/>
<rect x="471.9" y="711.5" width="5.2" height="5.2" fill="#000"/>
<rect x="472.8" y="712.9" width="5.2" height="5.2" fill="#000"/>
<rect x="473.7" y="714.2" width="5.2" height="5.2" fill="#000"/>
<rect x="474.6" y="715.5" width="5.2" height="5.2" fill="#000"/>
<rect x="475.5" y="716.8" width="5.2" height="5.2" fill="#000"/>
<rect x="476.3" y="718.2" width="5.2" height="5.2" fill="#000"/>
<rect x="477.0" y="719.7" width="5.2" height="5.2" fill="#000"/>
<rect x="477.8" y="721.1" width="5.2" height="5.2" fill="#000"/>
<rect x="478.6" y="722.5" width="5.2" height="5.2" fill="#000"/>
<rect x="478.9" y="724.0" width="5.2" height="5.2" fill="#000"/>
<rect x="479.2" y="725.6" width="5.2" height="5.2" fill="#000"/>
<rect x="479.5" y="727.2" width="5.2" height="5.2" fill="#000"/>
<rect x="479.8" y="728.7" width="5.2" height="5.2" fill="#000"/>
<rect x="479.6" y="730.3" width="5.2" height="5.2" fill="#000"/>
<rect x="479.4" y="731.9" width="5.2" height="5.2" fill="#000"/>
<rect x="479.2" y="733.5" width="5.2" height="5.2" fill="#000"/>
<path d="M410.0,738.0L410.3,735.5L410.6,733.0L410.9,730.6L411.4,728.1L411.8,725.6L412.3,723.2L412.8,720.7L413.4,718.3L414.1,715.9L416.1,709.1L417.9,703.8L420.1,697.8L422.1,690.6L425.4,682.5L429.0,673.7L433.8,663.5L439.2,652.5L446.1,641.8L454.3,631.3L463.5,620.7L474.5,611.9L485.7,605.0L497.6,599.6L510.4,596.5L523.1,595.8L535.3,595.8L548.0,597.5L558.9,600.4L569.6,604.1L580.0,609.8L592.0,615.7L604.0,620.8L608.8,630.9L617.8,644.3L628.5,649.1L637.4,673.5L642.5,686.3L640.8,698.8" fill="none" stroke="#f00" stroke-width="1.1" stroke-linejoin="round" stroke-linecap="round"/>
<circle cx="410.0" cy="738.0" r="3.00" fill="#f00"/>
<circle cx="410.3" cy="735.5" r="3.00" fill="#f00"/>
<circle cx="410.6" cy="733.0" r="3.00" fill="#f00"/>
<circle cx="410.9" cy="730.6" r="3.00" fill="#f00"/>
<circle cx="411.4" cy="728.1" r="3.00" fill="#f00"/>
<circle cx="411.8" cy="725.6" r="3.00" fill="#f00"/>
<circle cx="412.3" cy="723.2" r="3.00" fill="#f00"/>
<circle cx="412.8" cy="720.7" r="3.00" fill="#f00"/>
<circle cx="413.4" cy="718.3" r="3.00" fill="#f00"/>
<circle cx="414.1" cy="715.9" r="3.00" fill="#f00"/>
<circle cx="416.1" cy="709.1" r="3.00" fill="#f00"/>
<circle cx="417.9" cy="703.8" r="3.00" fill="#f00"/>
<circle cx="420.1" cy="697.8" r="3.00" fill="#f00"/>
<circle cx="422.1" cy="690.6" r="3.00" fill="#f00"/>
<circle cx="425.4" cy="682.5" r="3.00" fill="#f00"/>
<circle cx="429.0" cy="673.7" r="3.00" fill="#f00"/>
<circle cx="433.8" cy="663.5" r="3.00" fill="#f00"/>
<circle cx="439.2" cy="652.5" r="3.00" fill="#f00"/>
<circle cx="446.1" cy="641.8" r="3.00" fill="#f00"/>
<circle cx="454.3" cy="631.3" r="3.00" fill="#f00"/>
<circle cx="463.5" cy="620.7" r="3.00" fill="#f00"/>
<circle cx="474.5" cy="611.9" r="3.00" fill="#f00"/>
<circle cx="485.7" cy="605.0" r="3.00" fill="#f00"/>
<circle cx="497.6" cy="599.6" r="3.00" fill="#f00"/>
<circle cx="510.4" cy="596.5" r="3.00" fill="#f00"/>
<circle cx="523.1" cy="595.8" r="3.00" fill="#f00"/>
<circle cx="535.3" cy="595.8" r="3.00" fill="#f00"/>
<circle cx="548.0" cy="597.5" r="3.00" fill="#f00"/>
<circle cx="558.9" cy="600.4" r="3.00" fill="#f00"/>
<circle cx="569.6" cy="604.1" r="3.00" fill="#f00"/>
<circle cx="580.0" cy="609.8" r="3.00" fill="#f00"/>
<circle cx="592.0" cy="615.7" r="3.00" fill="#f00"/>
<circle cx="604.0" cy="620.8" r="3.00" fill="#f00"/>
<circle cx="608.8" cy="630.9" r="3.00" fill="#f00"/>
<circle cx="617.8" cy="644.3" r="3.00" fill="#f00"/>
<circle cx="628.5" cy="649.1" r="3.00" fill="#f00"/>
<circle cx="637.4" cy="673.5" r="3.00" fill="#f00"/>
<circle cx="642.5" cy="686.3" r="3.00" fill="#f00"/>
<circle cx="640.8" cy="698.8" r="3.00" fill="#f00"/>
<path d="M410.2,738.4L410.6,735.8L411.0,733.3L411.4,730.7L411.9,728.1L412.3,725.6L412.8,723.0L413.4,720.5L414.0,718.0L414.6,715.4L415.4,713.0L416.4,710.6L418.5,707.3L420.9,701.4L423.3,695.4L426.9,688.8L430.8,681.7L435.8,675.1L441.6,667.9L447.8,664.9L456.2,659.0L464.3,655.5L471.1,655.0L478.4,654.7L485.9,658.0L492.0,658.7L494.5,662.6L502.0,667.6L510.2,673.9L511.4,682.7L513.3,685.3L517.1,689.0L520.3,695.3L524.0,700.3L527.8,701.6L532.8,706.0L535.0,713.6L538.1,724.2L537.9,730.5L534.1,740.0" fill="none" stroke="#0f0" stroke-width="1.1" stroke-linejoin="round" stroke-linecap="round"/>
<path d="M410.2,734.9L414.0,741.0L406.4,741.0Z" fill="#0f0"/>
<path d="M410.6,732.3L414.4,738.4L406.8,738.4Z" fill="#0f0"/>
<path d="M411.0,729.8L414.8,735.9L407.2,735.9Z" fill="#0f0"/>
<path d="M411.4,727.2L415.2,733.3L407.6,733.3Z" fill="#0f0"/>
<path d="M411.9,724.6L415.7,730.7L408.1,730.7Z" fill="#0f0"/>
<path d="M412.3,722.1L416.1,728.2L408.5,728.2Z" fill="#0f0"/>
<path d="M412.8,719.5L416.6,725.6L409.0,725.6Z" fill="#0f0"/>
<path d="M413.4,717.0L417.2,723.1L409.6,723.1Z" fill="#0f0"/>
<path d="M414.0,714.5L417.8,720.6L410.2,720.6Z" fill="#0f0"/>
<path d="M414.6,711.9L418.4,718.0L410.8,718.0Z" fill="#0f0"/>
<path d="M415.4,709.5L419.2,715.6L411.6,715.6Z" fill="#0f0"/>
<path d="M416.4,707.1L420.2,713.2L412.6,713.2Z" fill="#0f0"/>
<path d="M418.5,703.8L422.3,709.9L414.7,709.9Z" fill="#0f0"/>
<path d="M420.9,697.9L424.7,704.0L417.1,704.0Z" fill="#0f0"/>
<path d="M423.3,691.9L427.1,698.0L419.5,698.0Z" fill="#0f0"/>
<path d="M426.9,685.3L430.7,691.4L423.1,691.4Z" fill="#0f0"/>
<path d="M430.8,678.2L434.6,684.3L427.0,684.3Z" fill="#0f0"/>
<path d="M435.8,671.6L439.6,677.7L432.0,677.7Z" fill="#0f0"/>
<path d="M441.6,664.4L445.4,670.5L437.8,670.5Z" fill="#0f0"/>
<path d="M447.8,661.4L451.6,667.5L444.0,667.5Z" fill="#0f0"/>
<path d="M456.2,655.5L460.0,661.6L452.4,661.6Z" fill="#0f0"/>
<path d="M464.3,652.0L468.1,658.1L460.5,658.1Z" fill="#0f0"/>
<path d="M471.1,651.5L474.9,657.6L467.3,657.6Z" fill="#0f0"/>
<path d="M478.4,651.2L482.2,657.3L474.6,657.3Z" fill="#0f0"/>
<path d="M485.9,654.5L489.7,660.6L482.1,660.6Z" fill="#0f0"/>
<path d="M492.0,655.2L495.8,661.3L488.2,661.3Z" fill="#0f0"/>
<path d="M494.5,659.1L498.3,665.2L490.7,665.2Z" fill="#0f0"/>
<path d="M502.0,664.1L505.8,670.2L498.2,670.2Z" fill="#0f0"/>
<path d="M510.2,670.4L514.0,676.5L506.4,676.5Z" fill="#0f0"/>
<path d="M511.4,679.2L515.2,685.3L507.6,685.3Z" fill="#0f0"/>
<path d="M513.3,681.8L517.1,687.9L509.5,687.9Z" fill="#0f0"/>
<path d="M517.1,685.5L520.9,691.6L513.3,691.6Z" fill="#0f0"/>
<path d="M520.3,691.8L524.1,697.9L516.5,697.9Z" fill="#0f0"/>
<path d="M524.0,696.8L527.8,702.9L520.2,702.9Z" fill="#0f0"/>
<path d="M527.8,698.1L531.6,704.2L524.0,704.2Z" fill="#0f0"/>
<path d="M532.8,702.5L536.6,708.6L529.0,708.6Z" fill="#0f0"/>
<path d="M535.0,710.1L538.8,716.2L531.2,716.2Z" fill="#0f0"/>
<path d="M538.1,720.7L541.9,726.8L534.3,726.8Z" fill="#0f0"/>
<path d="M537.9,727.0L541.7,733.1L534.1,733.1Z" fill="#0f0"/>
<path d="M534.1,736.5L537.9,742.6L530.3,742.6Z" fill="#0f0"/>
<path d="M410.2,738.4L410.7,736.6L411.2,734.7L411.7,732.9L412.2,731.1L412.7,729.2L413.2,727.4L414.0,725.7L414.7,723.9L415.5,722.2L416.2,720.4L417.0,718.7L417.9,717.0L418.7,715.3L419.6,713.6L420.4,711.9L421.4,710.3L422.6,708.8L423.8,707.3L425.0,705.9L426.4,704.6L428.0,703.7L429.7,702.8L431.4,702.0L433.3,701.8L435.2,701.5L437.0,701.7L438.7,702.4L440.5,703.2L442.2,704.1L443.7,705.2L445.2,706.3L446.7,707.5L447.3,709.3L448.0,711.1L449.6,716.2L450.1,722.3L450.3,727.6L450.0,734.6L448.1,741.0L445.0,742.5L442.0,743.5L439.5,745.0L437.5,746.5L440.0,747.0L443.0,746.0" fill="none" stroke="#00f" stroke-width="1.1" stroke-linejoin="round" stroke-linecap="round"/>
<path d="M410.2,741.6L413.5,736.0L406.9,736.0Z" fill="#00f"/>
<path d="M410.7,739.8L414.0,734.2L407.4,734.2Z" fill="#00f"/>
<path d="M411.2,737.9L414.5,732.3L407.9,732.3Z" fill="#00f"/>
<path d="M411.7,736.1L415.0,730.5L408.4,730.5Z" fill="#00f"/>
<path d="M412.2,734.3L415.5,728.7L408.9,728.7Z" fill="#00f"/>
<path d="M412.7,732.4L416.0,726.8L409.4,726.8Z" fill="#00f"/>
<path d="M413.2,730.6L416.5,725.0L409.9,725.0Z" fill="#00f"/>
<path d="M414.0,728.9L417.3,723.3L410.7,723.3Z" fill="#00f"/>
<path d="M414.7,727.1L418.0,721.5L411.4,721.5Z" fill="#00f"/>
<path d="M415.5,725.4L418.8,719.8L412.2,719.8Z" fill="#00f"/>
<path d="M416.2,723.6L419.5,718.0L412.9,718.0Z" fill="#00f"/>
<path d="M417.0,721.9L420.3,716.3L413.7,716.3Z" fill="#00f"/>
<path d="M417.9,720.2L421.2,714.6L414.6,714.6Z" fill="#00f"/>
<path d="M418.7,718.5L422.0,712.9L415.4,712.9Z" fill="#00f"/>
<path d="M419.6,716.8L422.9,711.2L416.3,711.2Z" fill="#00f"/>
<path d="M420.4,715.1L423.7,709.5L417.1,709.5Z" fill="#00f"/>
<path d="M421.4,713.5L424.7,707.9L418.1,707.9Z" fill="#00f"/>
<path d="M422.6,712.0L425.9,706.4L419.3,706.4Z" fill="#00f"/>
<path d="M423.8,710.5L427.1,704.9L420.5,704.9Z" fill="#00f"/>
<path d="M425.0,709.1L428.3,703.5L421.7,703.5Z" fill="#00f"/>
<path d="M426.4,707.8L429.7,702.2L423.1,702.2Z" fill="#00f"/>
<path d="M428.0,706.9L431.3,701.3L424.7,701.3Z" fill="#00f"/>
<path d="M429.7,706.0L433.0,700.4L426.4,700.4Z" fill="#00f"/>
<path d="M431.4,705.2L434.7,699.6L428.1,699.6Z" fill="#00f"/>
<path d="M433.3,705.0L436.6,699.4L430.0,699.4Z" fill="#00f"/>
<path d="M435.2,704.7L438.5,699.1L431.9,699.1Z" fill="#00f"/>
<path d="M437.0,704.9L440.3,699.3L433.7,699.3Z" fill="#00f"/>
<path d="M438.7,705.6L442.0,700.0L435.4,700.0Z" fill="#00f"/>
<path d="M440.5,706.4L443.8,700.8L437.2,700.8Z" fill="#00f"/>
<path d="M442.2,707.3L445.5,701.7L438.9,701.7Z" fill="#00f"/>
<path d="M443.7,708.4L447.0,702.8L440.4,702.8Z" fill="#00f"/>
<path d="M445.2,709.5L448.5,703.9L441.9,703.9Z" fill="#00f"/>
<path d="M446.7,710.7L450.0,705.1L443.4,705.1Z" fill="#00f"/>
<path d="M447.3,712.5L450.6,706.9L444.0,706.9Z" fill="#00f"/>
<path d="M448.0,714.3L451.3,708.7L444.7,708.7Z" fill="#00f"/>
<path d="M449.6,719.4L452.9,713.8L446.3,713.8Z" fill="#00f"/>
<path d="M450.1,725.5L453.4,719.9L446.8,719.9Z" fill="#00f"/>
<path d="M450.3,730.8L453.6,725.2L447.0,725.2Z" fill="#00f"/>
<path d="M450.0,737.8L453.3,732.2L446.7,732.2Z" fill="#00f"/>
<path d="M448.1,744.2L451.4,738.6L444.8,738.6Z" fill="#00f"/>
<path d="M445.0,745.7L448.3,740.1L441.7,740.1Z" fill="#00f"/>
<path d="M442.0,746.7L445.3,741.1L438.7,741.1Z" fill="#00f"/>
<path d="M439.5,748.2L442.8,742.6L436.2,742.6Z" fill="#00f"/>
<path d="M437.5,749.7L440.8,744.1L434.2,744.1Z" fill="#00f"/>
<path d="M440.0,750.2L443.3,744.6L436.7,744.6Z" fill="#00f"/>
<path d="M443.0,749.2L446.3,743.6L439.7,743.6Z" fill="#00f"/>
</svg></body></html>
